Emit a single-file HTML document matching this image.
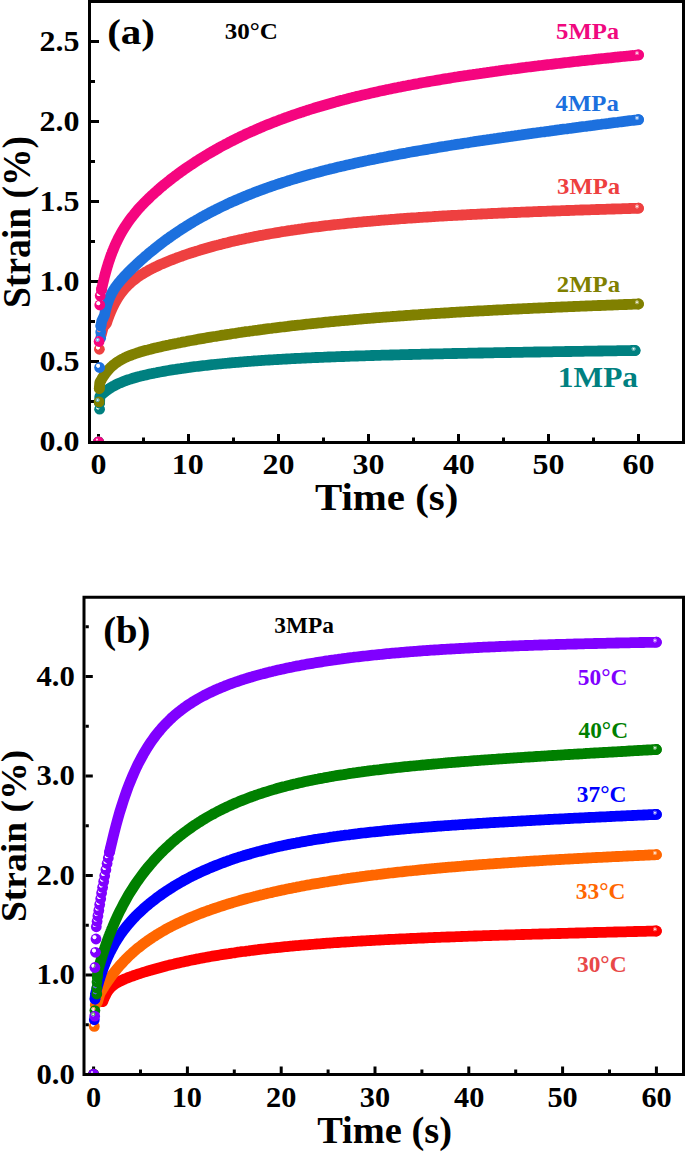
<!DOCTYPE html>
<html><head><meta charset="utf-8"><title>Creep strain vs time</title>
<style>html,body{margin:0;padding:0;background:#fff;}svg{display:block;}</style></head>
<body>
<svg width="685" height="1152" viewBox="0 0 685 1152">
<defs><radialGradient id="g008080" cx="0.36" cy="0.34" fx="0.36" fy="0.34" r="0.5"><stop offset="0" stop-color="#fff"/><stop offset="0.1" stop-color="#fff" stop-opacity="0.85"/><stop offset="0.26" stop-color="#fff" stop-opacity="0.3"/><stop offset="0.44" stop-color="#008080"/><stop offset="1" stop-color="#008080"/></radialGradient><radialGradient id="g808000" cx="0.36" cy="0.34" fx="0.36" fy="0.34" r="0.5"><stop offset="0" stop-color="#fff"/><stop offset="0.1" stop-color="#fff" stop-opacity="0.85"/><stop offset="0.26" stop-color="#fff" stop-opacity="0.3"/><stop offset="0.44" stop-color="#808000"/><stop offset="1" stop-color="#808000"/></radialGradient><radialGradient id="gEE4040" cx="0.36" cy="0.34" fx="0.36" fy="0.34" r="0.5"><stop offset="0" stop-color="#fff"/><stop offset="0.1" stop-color="#fff" stop-opacity="0.85"/><stop offset="0.26" stop-color="#fff" stop-opacity="0.3"/><stop offset="0.44" stop-color="#EE4040"/><stop offset="1" stop-color="#EE4040"/></radialGradient><radialGradient id="g1C70DE" cx="0.36" cy="0.34" fx="0.36" fy="0.34" r="0.5"><stop offset="0" stop-color="#fff"/><stop offset="0.1" stop-color="#fff" stop-opacity="0.85"/><stop offset="0.26" stop-color="#fff" stop-opacity="0.3"/><stop offset="0.44" stop-color="#1C70DE"/><stop offset="1" stop-color="#1C70DE"/></radialGradient><radialGradient id="gF5057F" cx="0.36" cy="0.34" fx="0.36" fy="0.34" r="0.5"><stop offset="0" stop-color="#fff"/><stop offset="0.1" stop-color="#fff" stop-opacity="0.85"/><stop offset="0.26" stop-color="#fff" stop-opacity="0.3"/><stop offset="0.44" stop-color="#F5057F"/><stop offset="1" stop-color="#F5057F"/></radialGradient><radialGradient id="gFF0000" cx="0.36" cy="0.34" fx="0.36" fy="0.34" r="0.5"><stop offset="0" stop-color="#fff"/><stop offset="0.1" stop-color="#fff" stop-opacity="0.85"/><stop offset="0.26" stop-color="#fff" stop-opacity="0.3"/><stop offset="0.44" stop-color="#FF0000"/><stop offset="1" stop-color="#FF0000"/></radialGradient><radialGradient id="gFF6600" cx="0.36" cy="0.34" fx="0.36" fy="0.34" r="0.5"><stop offset="0" stop-color="#fff"/><stop offset="0.1" stop-color="#fff" stop-opacity="0.85"/><stop offset="0.26" stop-color="#fff" stop-opacity="0.3"/><stop offset="0.44" stop-color="#FF6600"/><stop offset="1" stop-color="#FF6600"/></radialGradient><radialGradient id="g0000FF" cx="0.36" cy="0.34" fx="0.36" fy="0.34" r="0.5"><stop offset="0" stop-color="#fff"/><stop offset="0.1" stop-color="#fff" stop-opacity="0.85"/><stop offset="0.26" stop-color="#fff" stop-opacity="0.3"/><stop offset="0.44" stop-color="#0000FF"/><stop offset="1" stop-color="#0000FF"/></radialGradient><radialGradient id="g008000" cx="0.36" cy="0.34" fx="0.36" fy="0.34" r="0.5"><stop offset="0" stop-color="#fff"/><stop offset="0.1" stop-color="#fff" stop-opacity="0.85"/><stop offset="0.26" stop-color="#fff" stop-opacity="0.3"/><stop offset="0.44" stop-color="#008000"/><stop offset="1" stop-color="#008000"/></radialGradient><radialGradient id="g8000FF" cx="0.36" cy="0.34" fx="0.36" fy="0.34" r="0.5"><stop offset="0" stop-color="#fff"/><stop offset="0.1" stop-color="#fff" stop-opacity="0.85"/><stop offset="0.26" stop-color="#fff" stop-opacity="0.3"/><stop offset="0.44" stop-color="#8000FF"/><stop offset="1" stop-color="#8000FF"/></radialGradient></defs>
<rect width="685" height="1152" fill="#fff"/>
<path d="M98.5,441 V434 M188.5,441 V434 M278.5,441 V434 M368.5,441 V434 M458.5,441 V434 M548.5,441 V434 M638.5,441 V434 M143.5,441 V437.5 M233.5,441 V437.5 M323.5,441 V437.5 M413.5,441 V437.5 M503.5,441 V437.5 M593.5,441 V437.5 M91,361.5 H99 M91,281.5 H99 M91,201.5 H99 M91,121.5 H99 M91,41.5 H99 M91,401.5 H95 M91,321.5 H95 M91,241.5 H95 M91,161.5 H95 M91,81.5 H95 M91,1.5 H95" stroke="#000" stroke-width="3" fill="none"/>
<clipPath id="ca"><rect x="91" y="3" width="591" height="438"/></clipPath>
<g clip-path="url(#ca)">
<circle cx="98.5" cy="441.8" r="5.4" fill="#008080"/>
<circle cx="96.9" cy="439.6" r="1.1" fill="#fff" opacity="0.8"/>
<circle cx="99.6" cy="409.2" r="5.4" fill="url(#g008080)"/>
<circle cx="99.6" cy="403.0" r="5.4" fill="url(#g008080)"/>
<polyline points="99.6,403.0 99.8,396.5 99.8,396.5 99.9,396.4 99.9,396.4 99.9,396.4 100.0,396.3 100.0,396.3 100.0,396.3 100.1,396.2 100.1,396.2 100.1,396.2 100.2,396.1 100.2,396.1 100.2,396.1 100.3,396.0 100.3,396.0 100.4,395.9 100.4,395.9 100.4,395.8 100.5,395.8 100.5,395.8 100.6,395.7 100.6,395.7 100.7,395.6 100.7,395.6 100.8,395.5 100.8,395.5 100.9,395.4 100.9,395.4 101.0,395.3 101.0,395.3 101.1,395.2 101.1,395.2 101.2,395.1 101.3,395.0 101.3,395.0 101.4,394.9 101.4,394.9 101.5,394.8 101.6,394.7 101.6,394.7 101.7,394.6 101.8,394.5 101.9,394.5 101.9,394.4 102.0,394.3 102.1,394.3 102.2,394.2 102.3,394.1 102.3,394.0 102.4,393.9 102.5,393.9 102.6,393.8 102.7,393.7 102.8,393.6 102.9,393.5 103.0,393.5 103.1,393.4 103.2,393.3 103.3,393.2 103.4,393.1 103.5,393.0 103.6,392.9 103.7,392.8 103.8,392.7 104.0,392.6 104.1,392.5 104.2,392.4 104.3,392.3 104.5,392.2 104.6,392.1 104.7,392.0 104.9,391.8 105.0,391.7 105.2,391.6 105.3,391.5 105.5,391.4 105.6,391.3 105.8,391.1 105.9,391.0 106.1,390.9 106.3,390.8 106.5,390.6 106.6,390.5 106.8,390.4 107.0,390.2 107.2,390.1 107.4,389.9 107.6,389.8 107.8,389.7 108.0,389.5 108.2,389.4 108.4,389.2 108.6,389.1 108.9,388.9 109.1,388.8 109.3,388.6 109.6,388.4 109.8,388.3 110.1,388.1 110.3,388.0 110.6,387.8 110.9,387.6 111.1,387.5 111.4,387.3 111.7,387.1 112.0,386.9 112.3,386.8 112.6,386.6 112.9,386.4 113.3,386.2 113.6,386.0 113.9,385.9 114.3,385.7 114.6,385.5 115.0,385.3 115.3,385.1 115.7,384.9 116.1,384.7 116.5,384.5 118.2,383.7 120.0,382.9 121.7,382.2 123.4,381.5 125.2,380.8 126.9,380.2 128.6,379.6 130.4,379.1 132.1,378.5 133.8,378.0 135.6,377.5 137.3,377.0 139.0,376.6 140.8,376.1 142.5,375.7 144.3,375.3 146.0,374.9 147.7,374.5 149.5,374.1 151.2,373.7 152.9,373.4 154.7,373.0 156.4,372.7 158.1,372.3 159.9,372.0 161.6,371.7 163.3,371.4 165.1,371.1 166.8,370.8 168.5,370.5 170.3,370.2 172.0,369.9 173.7,369.6 175.5,369.4 177.2,369.1 178.9,368.8 180.7,368.6 182.4,368.3 184.1,368.1 185.9,367.8 187.6,367.6 189.3,367.4 191.1,367.1 192.8,366.9 194.5,366.7 196.3,366.5 198.0,366.3 199.8,366.1 201.5,365.9 203.2,365.7 205.0,365.5 206.7,365.3 208.4,365.1 210.2,364.9 211.9,364.7 213.6,364.5 215.4,364.3 217.1,364.2 218.8,364.0 220.6,363.8 222.3,363.7 224.0,363.5 225.8,363.3 227.5,363.2 229.2,363.0 231.0,362.9 232.7,362.7 234.4,362.6 236.2,362.4 237.9,362.3 239.6,362.1 241.4,362.0 243.1,361.8 244.8,361.7 246.6,361.6 248.3,361.4 250.0,361.3 251.8,361.2 253.5,361.0 255.3,360.9 257.0,360.8 258.7,360.7 260.5,360.6 262.2,360.4 263.9,360.3 265.7,360.2 267.4,360.1 269.1,360.0 270.9,359.9 272.6,359.8 274.3,359.7 276.1,359.6 277.8,359.5 279.5,359.4 281.3,359.3 283.0,359.2 284.7,359.1 286.5,359.0 288.2,358.9 289.9,358.8 291.7,358.7 293.4,358.6 295.1,358.5 296.9,358.4 298.6,358.3 300.3,358.3 302.1,358.2 303.8,358.1 305.5,358.0 307.3,357.9 309.0,357.9 310.8,357.8 312.5,357.7 314.2,357.6 316.0,357.5 317.7,357.5 319.4,357.4 321.2,357.3 322.9,357.3 324.6,357.2 326.4,357.1 328.1,357.0 329.8,357.0 331.6,356.9 333.3,356.8 335.0,356.8 336.8,356.7 338.5,356.6 340.2,356.6 342.0,356.5 343.7,356.5 345.4,356.4 347.2,356.3 348.9,356.3 350.6,356.2 352.4,356.2 354.1,356.1 355.8,356.0 357.6,356.0 359.3,355.9 361.0,355.9 362.8,355.8 364.5,355.8 366.3,355.7 368.0,355.7 369.7,355.6 371.5,355.5 373.2,355.5 374.9,355.4 376.7,355.4 378.4,355.3 380.1,355.3 381.9,355.2 383.6,355.2 385.3,355.1 387.1,355.1 388.8,355.1 390.5,355.0 392.3,355.0 394.0,354.9 395.7,354.9 397.5,354.8 399.2,354.8 400.9,354.7 402.7,354.7 404.4,354.6 406.1,354.6 407.9,354.6 409.6,354.5 411.3,354.5 413.1,354.4 414.8,354.4 416.5,354.3 418.3,354.3 420.0,354.3 421.8,354.2 423.5,354.2 425.2,354.1 427.0,354.1 428.7,354.1 430.4,354.0 432.2,354.0 433.9,353.9 435.6,353.9 437.4,353.9 439.1,353.8 440.8,353.8 442.6,353.8 444.3,353.7 446.0,353.7 447.8,353.6 449.5,353.6 451.2,353.6 453.0,353.5 454.7,353.5 456.4,353.5 458.2,353.4 459.9,353.4 461.6,353.4 463.4,353.3 465.1,353.3 466.8,353.3 468.6,353.2 470.3,353.2 472.0,353.2 473.8,353.1 475.5,353.1 477.3,353.1 479.0,353.0 480.7,353.0 482.5,353.0 484.2,352.9 485.9,352.9 487.7,352.9 489.4,352.8 491.1,352.8 492.9,352.8 494.6,352.7 496.3,352.7 498.1,352.7 499.8,352.6 501.5,352.6 503.3,352.6 505.0,352.6 506.7,352.5 508.5,352.5 510.2,352.5 511.9,352.4 513.7,352.4 515.4,352.4 517.1,352.3 518.9,352.3 520.6,352.3 522.3,352.3 524.1,352.2 525.8,352.2 527.5,352.2 529.3,352.1 531.0,352.1 532.8,352.1 534.5,352.0 536.2,352.0 538.0,352.0 539.7,352.0 541.4,351.9 543.2,351.9 544.9,351.9 546.6,351.8 548.4,351.8 550.1,351.8 551.8,351.8 553.6,351.7 555.3,351.7 557.0,351.7 558.8,351.7 560.5,351.6 562.2,351.6 564.0,351.6 565.7,351.5 567.4,351.5 569.2,351.5 570.9,351.5 572.6,351.4 574.4,351.4 576.1,351.4 577.8,351.3 579.6,351.3 581.3,351.3 583.0,351.3 584.8,351.2 586.5,351.2 588.3,351.2 590.0,351.2 591.7,351.1 593.5,351.1 595.2,351.1 596.9,351.1 598.7,351.0 600.4,351.0 602.1,351.0 603.9,350.9 605.6,350.9 607.3,350.9 609.1,350.9 610.8,350.8 612.5,350.8 614.3,350.8 616.0,350.8 617.7,350.7 619.5,350.7 621.2,350.7 622.9,350.7 624.7,350.6 626.4,350.6 628.1,350.6 629.9,350.6 631.6,350.5 633.3,350.5 635.1,350.5" fill="none" stroke="#008080" stroke-width="10.8" stroke-linecap="round" stroke-linejoin="round"/>
<circle cx="635.1" cy="350.5" r="5.4" fill="url(#g008080)"/>
<circle cx="98.5" cy="441.8" r="5.4" fill="#808000"/>
<circle cx="96.9" cy="439.6" r="1.1" fill="#fff" opacity="0.8"/>
<circle cx="99.1" cy="401.9" r="5.4" fill="url(#g808000)"/>
<circle cx="99.3" cy="388.5" r="5.4" fill="url(#g808000)"/>
<polyline points="99.3,388.5 99.8,382.5 99.8,382.5 99.9,382.4 99.9,382.4 99.9,382.3 100.0,382.2 100.0,382.2 100.0,382.1 100.1,382.0 100.1,382.0 100.1,381.9 100.2,381.8 100.2,381.8 100.2,381.7 100.3,381.6 100.3,381.6 100.4,381.5 100.4,381.4 100.4,381.3 100.5,381.2 100.5,381.2 100.6,381.1 100.6,381.0 100.7,380.9 100.7,380.8 100.8,380.7 100.8,380.6 100.9,380.6 100.9,380.5 101.0,380.4 101.0,380.3 101.1,380.2 101.1,380.1 101.2,380.0 101.3,379.8 101.3,379.7 101.4,379.6 101.4,379.5 101.5,379.4 101.6,379.3 101.6,379.2 101.7,379.1 101.8,378.9 101.9,378.8 101.9,378.7 102.0,378.6 102.1,378.4 102.2,378.3 102.3,378.2 102.3,378.0 102.4,377.9 102.5,377.7 102.6,377.6 102.7,377.4 102.8,377.3 102.9,377.1 103.0,377.0 103.1,376.8 103.2,376.7 103.3,376.5 103.4,376.4 103.5,376.2 103.6,376.0 103.7,375.8 103.8,375.7 104.0,375.5 104.1,375.3 104.2,375.1 104.3,375.0 104.5,374.8 104.6,374.6 104.7,374.4 104.9,374.2 105.0,374.0 105.2,373.8 105.3,373.6 105.5,373.4 105.6,373.2 105.8,373.0 105.9,372.8 106.1,372.6 106.3,372.3 106.5,372.1 106.6,371.9 106.8,371.7 107.0,371.5 107.2,371.2 107.4,371.0 107.6,370.8 107.8,370.5 108.0,370.3 108.2,370.1 108.4,369.8 108.6,369.6 108.9,369.3 109.1,369.1 109.3,368.8 109.6,368.6 109.8,368.3 110.1,368.1 110.3,367.8 110.6,367.5 110.9,367.3 111.1,367.0 111.4,366.8 111.7,366.5 112.0,366.2 112.3,366.0 112.6,365.7 112.9,365.4 113.3,365.1 113.6,364.9 113.9,364.6 114.3,364.3 114.6,364.0 115.0,363.8 115.3,363.5 115.7,363.2 116.1,362.9 116.5,362.7 118.2,361.5 120.0,360.4 121.7,359.4 123.5,358.5 125.2,357.6 127.0,356.8 128.7,356.1 130.5,355.4 132.2,354.7 134.0,354.1 135.7,353.5 137.4,352.9 139.2,352.3 140.9,351.8 142.7,351.3 144.4,350.8 146.2,350.3 147.9,349.9 149.7,349.4 151.4,349.0 153.2,348.5 154.9,348.1 156.7,347.7 158.4,347.3 160.1,346.9 161.9,346.5 163.6,346.1 165.4,345.7 167.1,345.3 168.9,345.0 170.6,344.6 172.4,344.2 174.1,343.9 175.9,343.5 177.6,343.2 179.3,342.8 181.1,342.5 182.8,342.1 184.6,341.8 186.3,341.5 188.1,341.1 189.8,340.8 191.6,340.5 193.3,340.2 195.1,339.9 196.8,339.5 198.6,339.2 200.3,338.9 202.0,338.6 203.8,338.3 205.5,338.0 207.3,337.7 209.0,337.4 210.8,337.1 212.5,336.8 214.3,336.5 216.0,336.3 217.8,336.0 219.5,335.7 221.2,335.4 223.0,335.1 224.7,334.9 226.5,334.6 228.2,334.3 230.0,334.1 231.7,333.8 233.5,333.5 235.2,333.3 237.0,333.0 238.7,332.7 240.5,332.5 242.2,332.2 243.9,332.0 245.7,331.7 247.4,331.5 249.2,331.3 250.9,331.0 252.7,330.8 254.4,330.5 256.2,330.3 257.9,330.1 259.7,329.8 261.4,329.6 263.1,329.4 264.9,329.1 266.6,328.9 268.4,328.7 270.1,328.5 271.9,328.3 273.6,328.0 275.4,327.8 277.1,327.6 278.9,327.4 280.6,327.2 282.4,327.0 284.1,326.8 285.8,326.6 287.6,326.4 289.3,326.1 291.1,325.9 292.8,325.7 294.6,325.5 296.3,325.4 298.1,325.2 299.8,325.0 301.6,324.8 303.3,324.6 305.0,324.4 306.8,324.2 308.5,324.0 310.3,323.8 312.0,323.6 313.8,323.5 315.5,323.3 317.3,323.1 319.0,322.9 320.8,322.8 322.5,322.6 324.3,322.4 326.0,322.2 327.7,322.1 329.5,321.9 331.2,321.7 333.0,321.6 334.7,321.4 336.5,321.2 338.2,321.1 340.0,320.9 341.7,320.7 343.5,320.6 345.2,320.4 346.9,320.3 348.7,320.1 350.4,319.9 352.2,319.8 353.9,319.6 355.7,319.5 357.4,319.3 359.2,319.2 360.9,319.0 362.7,318.9 364.4,318.7 366.2,318.6 367.9,318.4 369.6,318.3 371.4,318.2 373.1,318.0 374.9,317.9 376.6,317.7 378.4,317.6 380.1,317.5 381.9,317.3 383.6,317.2 385.4,317.1 387.1,316.9 388.8,316.8 390.6,316.7 392.3,316.5 394.1,316.4 395.8,316.3 397.6,316.1 399.3,316.0 401.1,315.9 402.8,315.8 404.6,315.6 406.3,315.5 408.1,315.4 409.8,315.3 411.5,315.1 413.3,315.0 415.0,314.9 416.8,314.8 418.5,314.7 420.3,314.5 422.0,314.4 423.8,314.3 425.5,314.2 427.3,314.1 429.0,314.0 430.7,313.8 432.5,313.7 434.2,313.6 436.0,313.5 437.7,313.4 439.5,313.3 441.2,313.2 443.0,313.1 444.7,313.0 446.5,312.9 448.2,312.8 450.0,312.6 451.7,312.5 453.4,312.4 455.2,312.3 456.9,312.2 458.7,312.1 460.4,312.0 462.2,311.9 463.9,311.8 465.7,311.7 467.4,311.6 469.2,311.5 470.9,311.4 472.6,311.3 474.4,311.2 476.1,311.1 477.9,311.0 479.6,310.9 481.4,310.8 483.1,310.8 484.9,310.7 486.6,310.6 488.4,310.5 490.1,310.4 491.9,310.3 493.6,310.2 495.3,310.1 497.1,310.0 498.8,309.9 500.6,309.8 502.3,309.8 504.1,309.7 505.8,309.6 507.6,309.5 509.3,309.4 511.1,309.3 512.8,309.2 514.5,309.1 516.3,309.1 518.0,309.0 519.8,308.9 521.5,308.8 523.3,308.7 525.0,308.6 526.8,308.6 528.5,308.5 530.3,308.4 532.0,308.3 533.8,308.2 535.5,308.2 537.2,308.1 539.0,308.0 540.7,307.9 542.5,307.8 544.2,307.8 546.0,307.7 547.7,307.6 549.5,307.5 551.2,307.5 553.0,307.4 554.7,307.3 556.4,307.2 558.2,307.2 559.9,307.1 561.7,307.0 563.4,306.9 565.2,306.9 566.9,306.8 568.7,306.7 570.4,306.6 572.2,306.6 573.9,306.5 575.7,306.4 577.4,306.3 579.1,306.3 580.9,306.2 582.6,306.1 584.4,306.1 586.1,306.0 587.9,305.9 589.6,305.9 591.4,305.8 593.1,305.7 594.9,305.7 596.6,305.6 598.3,305.5 600.1,305.5 601.8,305.4 603.6,305.3 605.3,305.3 607.1,305.2 608.8,305.1 610.6,305.1 612.3,305.0 614.1,304.9 615.8,304.9 617.6,304.8 619.3,304.7 621.0,304.7 622.8,304.6 624.5,304.5 626.3,304.5 628.0,304.4 629.8,304.3 631.5,304.3 633.3,304.2 635.0,304.2 636.8,304.1 638.5,304.0" fill="none" stroke="#808000" stroke-width="10.8" stroke-linecap="round" stroke-linejoin="round"/>
<circle cx="638.5" cy="304.0" r="5.4" fill="url(#g808000)"/>
<circle cx="98.5" cy="441.8" r="5.4" fill="#EE4040"/>
<circle cx="96.9" cy="439.6" r="1.1" fill="#fff" opacity="0.8"/>
<circle cx="99.4" cy="349.3" r="5.4" fill="url(#gEE4040)"/>
<polyline points="101.2,335.0 103.3,327.0 106.5,323.2 106.6,323.0 106.6,322.9 106.7,322.7 106.7,322.5 106.8,322.3 106.8,322.2 106.9,322.0 106.9,321.8 107.0,321.7 107.1,321.5 107.1,321.3 107.2,321.1 107.2,321.0 107.3,320.8 107.4,320.6 107.4,320.4 107.5,320.2 107.5,320.1 107.6,319.9 107.7,319.7 107.7,319.5 107.8,319.4 107.9,319.2 107.9,319.0 108.0,318.8 108.1,318.6 108.1,318.4 108.2,318.3 108.2,318.1 108.3,317.9 108.4,317.7 108.4,317.5 108.5,317.3 108.6,317.2 108.7,317.0 108.7,316.8 108.8,316.6 108.9,316.4 108.9,316.2 109.0,316.0 109.1,315.8 109.2,315.6 109.2,315.5 109.3,315.3 109.4,315.1 109.4,314.9 109.5,314.7 109.6,314.5 109.7,314.3 109.7,314.1 109.8,313.9 109.9,313.7 110.0,313.5 110.1,313.3 110.1,313.1 110.2,312.9 110.3,312.8 110.4,312.6 110.5,312.4 110.5,312.2 110.6,312.0 110.7,311.8 110.8,311.6 110.9,311.4 111.0,311.2 111.0,311.0 111.1,310.8 111.2,310.6 111.3,310.4 111.4,310.2 111.5,310.0 111.6,309.8 111.7,309.6 111.7,309.4 111.8,309.2 111.9,309.0 112.0,308.8 112.1,308.6 112.2,308.4 112.3,308.2 112.4,307.9 112.5,307.7 112.6,307.5 112.7,307.3 112.8,307.1 112.9,306.9 113.0,306.7 113.1,306.5 113.2,306.3 113.3,306.1 113.4,305.9 113.5,305.7 113.6,305.5 113.7,305.3 113.8,305.1 113.9,304.9 114.0,304.7 114.1,304.5 114.2,304.2 114.3,304.0 114.4,303.8 114.5,303.6 114.6,303.4 114.8,303.2 114.9,303.0 115.0,302.8 115.1,302.6 115.2,302.4 115.3,302.2 115.4,302.0 115.5,301.8 115.7,301.5 115.8,301.3 115.9,301.1 116.0,300.9 116.1,300.7 116.3,300.5 116.4,300.3 116.5,300.1 118.2,297.2 120.0,294.6 121.7,292.3 123.5,290.1 125.2,288.1 127.0,286.2 128.7,284.5 130.5,282.9 132.2,281.3 134.0,279.9 135.7,278.6 137.4,277.3 139.2,276.1 140.9,274.9 142.7,273.8 144.4,272.8 146.2,271.8 147.9,270.8 149.7,269.8 151.4,268.9 153.2,268.0 154.9,267.2 156.7,266.3 158.4,265.5 160.1,264.7 161.9,263.9 163.6,263.2 165.4,262.4 167.1,261.7 168.9,261.0 170.6,260.3 172.4,259.6 174.1,258.9 175.9,258.3 177.6,257.6 179.3,257.0 181.1,256.4 182.8,255.7 184.6,255.1 186.3,254.5 188.1,253.9 189.8,253.3 191.6,252.8 193.3,252.2 195.1,251.7 196.8,251.1 198.6,250.6 200.3,250.0 202.0,249.5 203.8,249.0 205.5,248.5 207.3,248.0 209.0,247.5 210.8,247.0 212.5,246.5 214.3,246.0 216.0,245.6 217.8,245.1 219.5,244.7 221.2,244.2 223.0,243.8 224.7,243.3 226.5,242.9 228.2,242.5 230.0,242.0 231.7,241.6 233.5,241.2 235.2,240.8 237.0,240.4 238.7,240.0 240.5,239.6 242.2,239.3 243.9,238.9 245.7,238.5 247.4,238.1 249.2,237.8 250.9,237.4 252.7,237.1 254.4,236.7 256.2,236.4 257.9,236.0 259.7,235.7 261.4,235.4 263.1,235.1 264.9,234.7 266.6,234.4 268.4,234.1 270.1,233.8 271.9,233.5 273.6,233.2 275.4,232.9 277.1,232.6 278.9,232.3 280.6,232.0 282.4,231.7 284.1,231.5 285.8,231.2 287.6,230.9 289.3,230.6 291.1,230.4 292.8,230.1 294.6,229.9 296.3,229.6 298.1,229.4 299.8,229.1 301.6,228.9 303.3,228.6 305.0,228.4 306.8,228.1 308.5,227.9 310.3,227.7 312.0,227.4 313.8,227.2 315.5,227.0 317.3,226.8 319.0,226.6 320.8,226.3 322.5,226.1 324.3,225.9 326.0,225.7 327.7,225.5 329.5,225.3 331.2,225.1 333.0,224.9 334.7,224.7 336.5,224.5 338.2,224.3 340.0,224.2 341.7,224.0 343.5,223.8 345.2,223.6 346.9,223.4 348.7,223.2 350.4,223.1 352.2,222.9 353.9,222.7 355.7,222.6 357.4,222.4 359.2,222.2 360.9,222.1 362.7,221.9 364.4,221.7 366.2,221.6 367.9,221.4 369.6,221.3 371.4,221.1 373.1,221.0 374.9,220.8 376.6,220.7 378.4,220.5 380.1,220.4 381.9,220.2 383.6,220.1 385.4,219.9 387.1,219.8 388.8,219.7 390.6,219.5 392.3,219.4 394.1,219.3 395.8,219.1 397.6,219.0 399.3,218.9 401.1,218.7 402.8,218.6 404.6,218.5 406.3,218.4 408.1,218.2 409.8,218.1 411.5,218.0 413.3,217.9 415.0,217.8 416.8,217.7 418.5,217.5 420.3,217.4 422.0,217.3 423.8,217.2 425.5,217.1 427.3,217.0 429.0,216.9 430.7,216.8 432.5,216.7 434.2,216.5 436.0,216.4 437.7,216.3 439.5,216.2 441.2,216.1 443.0,216.0 444.7,215.9 446.5,215.8 448.2,215.7 450.0,215.6 451.7,215.5 453.4,215.4 455.2,215.3 456.9,215.3 458.7,215.2 460.4,215.1 462.2,215.0 463.9,214.9 465.7,214.8 467.4,214.7 469.2,214.6 470.9,214.5 472.6,214.4 474.4,214.3 476.1,214.3 477.9,214.2 479.6,214.1 481.4,214.0 483.1,213.9 484.9,213.8 486.6,213.8 488.4,213.7 490.1,213.6 491.9,213.5 493.6,213.4 495.3,213.4 497.1,213.3 498.8,213.2 500.6,213.1 502.3,213.0 504.1,213.0 505.8,212.9 507.6,212.8 509.3,212.7 511.1,212.7 512.8,212.6 514.5,212.5 516.3,212.5 518.0,212.4 519.8,212.3 521.5,212.2 523.3,212.2 525.0,212.1 526.8,212.0 528.5,212.0 530.3,211.9 532.0,211.8 533.8,211.7 535.5,211.7 537.2,211.6 539.0,211.5 540.7,211.5 542.5,211.4 544.2,211.3 546.0,211.3 547.7,211.2 549.5,211.2 551.2,211.1 553.0,211.0 554.7,211.0 556.4,210.9 558.2,210.8 559.9,210.8 561.7,210.7 563.4,210.6 565.2,210.6 566.9,210.5 568.7,210.5 570.4,210.4 572.2,210.3 573.9,210.3 575.7,210.2 577.4,210.2 579.1,210.1 580.9,210.0 582.6,210.0 584.4,209.9 586.1,209.9 587.9,209.8 589.6,209.8 591.4,209.7 593.1,209.6 594.9,209.6 596.6,209.5 598.3,209.5 600.1,209.4 601.8,209.4 603.6,209.3 605.3,209.3 607.1,209.2 608.8,209.1 610.6,209.1 612.3,209.0 614.1,209.0 615.8,208.9 617.6,208.9 619.3,208.8 621.0,208.8 622.8,208.7 624.5,208.7 626.3,208.6 628.0,208.6 629.8,208.5 631.5,208.4 633.3,208.4 635.0,208.3 636.8,208.3 638.5,208.2" fill="none" stroke="#EE4040" stroke-width="10.8" stroke-linecap="round" stroke-linejoin="round"/>
<circle cx="638.5" cy="208.2" r="5.4" fill="url(#gEE4040)"/>
<circle cx="98.5" cy="441.8" r="5.4" fill="#1C70DE"/>
<circle cx="96.9" cy="439.6" r="1.1" fill="#fff" opacity="0.8"/>
<circle cx="99.6" cy="367.5" r="5.4" fill="url(#g1C70DE)"/>
<circle cx="100.7" cy="338.0" r="5.4" fill="url(#g1C70DE)"/>
<circle cx="100.7" cy="332.0" r="5.4" fill="url(#g1C70DE)"/>
<circle cx="100.9" cy="326.0" r="5.4" fill="url(#g1C70DE)"/>
<polyline points="100.9,326.0 101.8,321.0 104.5,315.2 104.6,315.0 104.6,314.7 104.7,314.4 104.7,314.2 104.8,313.9 104.8,313.6 104.9,313.3 105.0,313.1 105.0,312.8 105.1,312.5 105.1,312.3 105.2,312.0 105.3,311.7 105.3,311.5 105.4,311.2 105.5,310.9 105.5,310.6 105.6,310.4 105.7,310.1 105.7,309.8 105.8,309.6 105.9,309.3 105.9,309.0 106.0,308.8 106.1,308.5 106.1,308.2 106.2,308.0 106.3,307.7 106.3,307.4 106.4,307.2 106.5,306.9 106.6,306.7 106.6,306.4 106.7,306.1 106.8,305.9 106.9,305.6 106.9,305.3 107.0,305.1 107.1,304.8 107.2,304.6 107.3,304.3 107.3,304.0 107.4,303.8 107.5,303.5 107.6,303.3 107.7,303.0 107.8,302.8 107.8,302.5 107.9,302.2 108.0,302.0 108.1,301.7 108.2,301.5 108.3,301.2 108.4,301.0 108.5,300.7 108.6,300.5 108.7,300.2 108.7,300.0 108.8,299.7 108.9,299.5 109.0,299.2 109.1,299.0 109.2,298.7 109.3,298.5 109.4,298.3 109.5,298.0 109.6,297.8 109.7,297.5 109.8,297.3 110.0,297.0 110.1,296.8 110.2,296.6 110.3,296.3 110.4,296.1 110.5,295.8 110.6,295.6 110.7,295.4 110.8,295.1 110.9,294.9 111.1,294.7 111.2,294.4 111.3,294.2 111.4,294.0 111.5,293.7 111.7,293.5 111.8,293.3 111.9,293.0 112.0,292.8 112.1,292.6 112.3,292.3 112.4,292.1 112.5,291.9 112.7,291.6 112.8,291.4 112.9,291.2 113.1,291.0 113.2,290.7 113.3,290.5 113.5,290.3 113.6,290.0 113.7,289.8 113.9,289.6 114.0,289.4 114.2,289.1 114.3,288.9 114.5,288.7 114.6,288.5 114.8,288.2 114.9,288.0 115.1,287.8 115.2,287.6 115.4,287.3 115.5,287.1 115.7,286.9 115.8,286.7 116.0,286.4 116.2,286.2 116.3,286.0 116.5,285.7 118.2,283.5 120.0,281.3 121.7,279.3 123.5,277.3 125.2,275.5 127.0,273.6 128.7,271.9 130.5,270.1 132.2,268.4 134.0,266.7 135.7,265.1 137.4,263.5 139.2,261.9 140.9,260.3 142.7,258.7 144.4,257.2 146.2,255.7 147.9,254.2 149.7,252.7 151.4,251.3 153.2,249.9 154.9,248.5 156.7,247.1 158.4,245.7 160.1,244.4 161.9,243.0 163.6,241.7 165.4,240.4 167.1,239.1 168.9,237.9 170.6,236.6 172.4,235.4 174.1,234.2 175.9,233.0 177.6,231.8 179.3,230.7 181.1,229.5 182.8,228.4 184.6,227.3 186.3,226.2 188.1,225.1 189.8,224.0 191.6,223.0 193.3,221.9 195.1,220.9 196.8,219.9 198.6,218.9 200.3,217.9 202.0,216.9 203.8,216.0 205.5,215.0 207.3,214.1 209.0,213.1 210.8,212.2 212.5,211.3 214.3,210.4 216.0,209.5 217.8,208.7 219.5,207.8 221.2,206.9 223.0,206.1 224.7,205.3 226.5,204.5 228.2,203.6 230.0,202.8 231.7,202.0 233.5,201.3 235.2,200.5 237.0,199.7 238.7,199.0 240.5,198.2 242.2,197.5 243.9,196.8 245.7,196.1 247.4,195.3 249.2,194.6 250.9,193.9 252.7,193.3 254.4,192.6 256.2,191.9 257.9,191.2 259.7,190.6 261.4,189.9 263.1,189.3 264.9,188.7 266.6,188.0 268.4,187.4 270.1,186.8 271.9,186.2 273.6,185.6 275.4,185.0 277.1,184.4 278.9,183.8 280.6,183.3 282.4,182.7 284.1,182.1 285.8,181.6 287.6,181.0 289.3,180.5 291.1,179.9 292.8,179.4 294.6,178.9 296.3,178.3 298.1,177.8 299.8,177.3 301.6,176.8 303.3,176.3 305.0,175.8 306.8,175.3 308.5,174.8 310.3,174.3 312.0,173.8 313.8,173.4 315.5,172.9 317.3,172.4 319.0,172.0 320.8,171.5 322.5,171.0 324.3,170.6 326.0,170.1 327.7,169.7 329.5,169.3 331.2,168.8 333.0,168.4 334.7,168.0 336.5,167.5 338.2,167.1 340.0,166.7 341.7,166.3 343.5,165.9 345.2,165.5 346.9,165.1 348.7,164.7 350.4,164.3 352.2,163.9 353.9,163.5 355.7,163.1 357.4,162.7 359.2,162.3 360.9,161.9 362.7,161.6 364.4,161.2 366.2,160.8 367.9,160.5 369.6,160.1 371.4,159.7 373.1,159.4 374.9,159.0 376.6,158.7 378.4,158.3 380.1,157.9 381.9,157.6 383.6,157.3 385.4,156.9 387.1,156.6 388.8,156.2 390.6,155.9 392.3,155.6 394.1,155.2 395.8,154.9 397.6,154.6 399.3,154.2 401.1,153.9 402.8,153.6 404.6,153.3 406.3,153.0 408.1,152.6 409.8,152.3 411.5,152.0 413.3,151.7 415.0,151.4 416.8,151.1 418.5,150.8 420.3,150.5 422.0,150.2 423.8,149.9 425.5,149.6 427.3,149.3 429.0,149.0 430.7,148.7 432.5,148.4 434.2,148.1 436.0,147.8 437.7,147.5 439.5,147.2 441.2,146.9 443.0,146.6 444.7,146.4 446.5,146.1 448.2,145.8 450.0,145.5 451.7,145.2 453.4,145.0 455.2,144.7 456.9,144.4 458.7,144.1 460.4,143.9 462.2,143.6 463.9,143.3 465.7,143.0 467.4,142.8 469.2,142.5 470.9,142.2 472.6,142.0 474.4,141.7 476.1,141.4 477.9,141.2 479.6,140.9 481.4,140.7 483.1,140.4 484.9,140.1 486.6,139.9 488.4,139.6 490.1,139.4 491.9,139.1 493.6,138.9 495.3,138.6 497.1,138.4 498.8,138.1 500.6,137.8 502.3,137.6 504.1,137.3 505.8,137.1 507.6,136.8 509.3,136.6 511.1,136.4 512.8,136.1 514.5,135.9 516.3,135.6 518.0,135.4 519.8,135.1 521.5,134.9 523.3,134.6 525.0,134.4 526.8,134.2 528.5,133.9 530.3,133.7 532.0,133.4 533.8,133.2 535.5,133.0 537.2,132.7 539.0,132.5 540.7,132.2 542.5,132.0 544.2,131.8 546.0,131.5 547.7,131.3 549.5,131.1 551.2,130.8 553.0,130.6 554.7,130.4 556.4,130.1 558.2,129.9 559.9,129.7 561.7,129.4 563.4,129.2 565.2,129.0 566.9,128.8 568.7,128.5 570.4,128.3 572.2,128.1 573.9,127.8 575.7,127.6 577.4,127.4 579.1,127.2 580.9,126.9 582.6,126.7 584.4,126.5 586.1,126.3 587.9,126.0 589.6,125.8 591.4,125.6 593.1,125.4 594.9,125.1 596.6,124.9 598.3,124.7 600.1,124.5 601.8,124.2 603.6,124.0 605.3,123.8 607.1,123.6 608.8,123.4 610.6,123.1 612.3,122.9 614.1,122.7 615.8,122.5 617.6,122.3 619.3,122.0 621.0,121.8 622.8,121.6 624.5,121.4 626.3,121.2 628.0,120.9 629.8,120.7 631.5,120.5 633.3,120.3 635.0,120.1 636.8,119.9 638.5,119.6" fill="none" stroke="#1C70DE" stroke-width="10.8" stroke-linecap="round" stroke-linejoin="round"/>
<circle cx="638.5" cy="119.6" r="5.4" fill="url(#g1C70DE)"/>
<circle cx="98.5" cy="441.8" r="5.4" fill="#F5057F"/>
<circle cx="96.9" cy="439.6" r="1.1" fill="#fff" opacity="0.8"/>
<circle cx="99.1" cy="341.5" r="5.4" fill="url(#gF5057F)"/>
<circle cx="99.8" cy="305.0" r="5.4" fill="url(#gF5057F)"/>
<circle cx="100.2" cy="295.8" r="5.4" fill="url(#gF5057F)"/>
<circle cx="101.5" cy="289.6" r="5.4" fill="url(#gF5057F)"/>
<polyline points="101.5,289.6 101.5,289.4 101.6,289.1 101.6,288.8 101.7,288.5 101.8,288.2 101.8,287.9 101.9,287.6 102.0,287.3 102.0,287.0 102.1,286.7 102.2,286.4 102.3,286.0 102.3,285.7 102.4,285.4 102.5,285.0 102.6,284.7 102.6,284.3 102.7,283.9 102.8,283.6 102.9,283.2 103.0,282.8 103.1,282.5 103.2,282.1 103.3,281.7 103.4,281.3 103.5,280.9 103.6,280.5 103.7,280.0 103.8,279.6 103.9,279.2 104.0,278.8 104.1,278.3 104.2,277.9 104.3,277.4 104.4,277.0 104.5,276.5 104.7,276.0 104.8,275.6 104.9,275.1 105.0,274.6 105.2,274.1 105.3,273.6 105.4,273.1 105.6,272.6 105.7,272.1 105.9,271.6 106.0,271.0 106.2,270.5 106.3,270.0 106.5,269.4 106.6,268.9 106.8,268.3 107.0,267.7 107.1,267.2 107.3,266.6 107.5,266.0 107.7,265.4 107.9,264.8 108.0,264.2 108.2,263.6 108.4,263.0 108.6,262.4 108.8,261.7 109.0,261.1 109.2,260.5 109.5,259.8 109.7,259.2 109.9,258.5 110.1,257.9 110.4,257.2 110.6,256.5 110.8,255.9 111.1,255.2 111.3,254.5 111.6,253.8 111.9,253.1 112.1,252.4 112.4,251.7 112.7,251.0 113.0,250.3 113.3,249.6 113.6,248.9 113.9,248.1 114.2,247.4 114.5,246.7 114.8,245.9 115.1,245.2 115.5,244.4 115.8,243.7 116.1,242.9 116.5,242.2 118.2,238.6 120.0,235.2 121.7,232.1 123.5,229.2 125.2,226.4 127.0,223.7 128.7,221.2 130.5,218.8 132.2,216.6 134.0,214.4 135.7,212.2 137.4,210.2 139.2,208.2 140.9,206.3 142.7,204.5 144.4,202.6 146.2,200.9 147.9,199.2 149.7,197.5 151.4,195.8 153.2,194.2 154.9,192.6 156.7,191.1 158.4,189.6 160.1,188.0 161.9,186.6 163.6,185.1 165.4,183.7 167.1,182.3 168.9,180.9 170.6,179.5 172.4,178.2 174.1,176.8 175.9,175.5 177.6,174.2 179.3,173.0 181.1,171.7 182.8,170.5 184.6,169.2 186.3,168.0 188.1,166.8 189.8,165.6 191.6,164.5 193.3,163.3 195.1,162.2 196.8,161.0 198.6,159.9 200.3,158.8 202.0,157.7 203.8,156.7 205.5,155.6 207.3,154.5 209.0,153.5 210.8,152.5 212.5,151.5 214.3,150.5 216.0,149.5 217.8,148.5 219.5,147.5 221.2,146.6 223.0,145.6 224.7,144.7 226.5,143.8 228.2,142.8 230.0,141.9 231.7,141.0 233.5,140.2 235.2,139.3 237.0,138.4 238.7,137.6 240.5,136.7 242.2,135.9 243.9,135.1 245.7,134.2 247.4,133.4 249.2,132.6 250.9,131.8 252.7,131.1 254.4,130.3 256.2,129.5 257.9,128.8 259.7,128.0 261.4,127.3 263.1,126.5 264.9,125.8 266.6,125.1 268.4,124.4 270.1,123.7 271.9,123.0 273.6,122.3 275.4,121.6 277.1,121.0 278.9,120.3 280.6,119.6 282.4,119.0 284.1,118.3 285.8,117.7 287.6,117.1 289.3,116.4 291.1,115.8 292.8,115.2 294.6,114.6 296.3,114.0 298.1,113.4 299.8,112.8 301.6,112.2 303.3,111.7 305.0,111.1 306.8,110.5 308.5,110.0 310.3,109.4 312.0,108.9 313.8,108.3 315.5,107.8 317.3,107.3 319.0,106.7 320.8,106.2 322.5,105.7 324.3,105.2 326.0,104.7 327.7,104.2 329.5,103.7 331.2,103.2 333.0,102.7 334.7,102.2 336.5,101.8 338.2,101.3 340.0,100.8 341.7,100.3 343.5,99.9 345.2,99.4 346.9,99.0 348.7,98.5 350.4,98.1 352.2,97.6 353.9,97.2 355.7,96.8 357.4,96.3 359.2,95.9 360.9,95.5 362.7,95.1 364.4,94.7 366.2,94.3 367.9,93.9 369.6,93.5 371.4,93.1 373.1,92.7 374.9,92.3 376.6,91.9 378.4,91.5 380.1,91.1 381.9,90.7 383.6,90.4 385.4,90.0 387.1,89.6 388.8,89.3 390.6,88.9 392.3,88.5 394.1,88.2 395.8,87.8 397.6,87.5 399.3,87.1 401.1,86.8 402.8,86.4 404.6,86.1 406.3,85.8 408.1,85.4 409.8,85.1 411.5,84.8 413.3,84.4 415.0,84.1 416.8,83.8 418.5,83.5 420.3,83.1 422.0,82.8 423.8,82.5 425.5,82.2 427.3,81.9 429.0,81.6 430.7,81.3 432.5,81.0 434.2,80.7 436.0,80.4 437.7,80.1 439.5,79.8 441.2,79.5 443.0,79.2 444.7,78.9 446.5,78.6 448.2,78.4 450.0,78.1 451.7,77.8 453.4,77.5 455.2,77.2 456.9,77.0 458.7,76.7 460.4,76.4 462.2,76.2 463.9,75.9 465.7,75.6 467.4,75.4 469.2,75.1 470.9,74.8 472.6,74.6 474.4,74.3 476.1,74.1 477.9,73.8 479.6,73.6 481.4,73.3 483.1,73.1 484.9,72.8 486.6,72.6 488.4,72.3 490.1,72.1 491.9,71.8 493.6,71.6 495.3,71.4 497.1,71.1 498.8,70.9 500.6,70.6 502.3,70.4 504.1,70.2 505.8,69.9 507.6,69.7 509.3,69.5 511.1,69.3 512.8,69.0 514.5,68.8 516.3,68.6 518.0,68.4 519.8,68.1 521.5,67.9 523.3,67.7 525.0,67.5 526.8,67.2 528.5,67.0 530.3,66.8 532.0,66.6 533.8,66.4 535.5,66.2 537.2,66.0 539.0,65.7 540.7,65.5 542.5,65.3 544.2,65.1 546.0,64.9 547.7,64.7 549.5,64.5 551.2,64.3 553.0,64.1 554.7,63.9 556.4,63.7 558.2,63.5 559.9,63.3 561.7,63.1 563.4,62.9 565.2,62.7 566.9,62.5 568.7,62.3 570.4,62.1 572.2,61.9 573.9,61.7 575.7,61.5 577.4,61.3 579.1,61.1 580.9,60.9 582.6,60.7 584.4,60.5 586.1,60.4 587.9,60.2 589.6,60.0 591.4,59.8 593.1,59.6 594.9,59.4 596.6,59.2 598.3,59.0 600.1,58.9 601.8,58.7 603.6,58.5 605.3,58.3 607.1,58.1 608.8,58.0 610.6,57.8 612.3,57.6 614.1,57.4 615.8,57.2 617.6,57.0 619.3,56.9 621.0,56.7 622.8,56.5 624.5,56.3 626.3,56.2 628.0,56.0 629.8,55.8 631.5,55.6 633.3,55.5 635.0,55.3 636.8,55.1 638.5,54.9" fill="none" stroke="#F5057F" stroke-width="10.8" stroke-linecap="round" stroke-linejoin="round"/>
<circle cx="638.5" cy="54.9" r="5.4" fill="url(#gF5057F)"/>
</g>
<path d="M89.5,444 V1.5 H683.5 V444 M88,442.5 H685" fill="none" stroke="#000" stroke-width="3"/>
<text transform="translate(39.48,450.99) scale(0.3200,0.2950)" font-family="'Liberation Serif', serif" font-weight="bold" font-size="100" fill="#000">0.0</text>
<text transform="translate(39.48,370.99) scale(0.3200,0.2950)" font-family="'Liberation Serif', serif" font-weight="bold" font-size="100" fill="#000">0.5</text>
<text transform="translate(39.48,291.14) scale(0.3200,0.2950)" font-family="'Liberation Serif', serif" font-weight="bold" font-size="100" fill="#000">1.0</text>
<text transform="translate(39.48,211.29) scale(0.3200,0.2950)" font-family="'Liberation Serif', serif" font-weight="bold" font-size="100" fill="#000">1.5</text>
<text transform="translate(39.48,130.99) scale(0.3200,0.2950)" font-family="'Liberation Serif', serif" font-weight="bold" font-size="100" fill="#000">2.0</text>
<text transform="translate(39.48,51.14) scale(0.3200,0.2950)" font-family="'Liberation Serif', serif" font-weight="bold" font-size="100" fill="#000">2.5</text>
<text transform="translate(90.40,474.09) scale(0.3200,0.2950)" font-family="'Liberation Serif', serif" font-weight="bold" font-size="100" fill="#000">0</text>
<text transform="translate(171.76,474.24) scale(0.3200,0.2950)" font-family="'Liberation Serif', serif" font-weight="bold" font-size="100" fill="#000">10</text>
<text transform="translate(262.40,474.09) scale(0.3200,0.2950)" font-family="'Liberation Serif', serif" font-weight="bold" font-size="100" fill="#000">20</text>
<text transform="translate(352.40,474.09) scale(0.3200,0.2950)" font-family="'Liberation Serif', serif" font-weight="bold" font-size="100" fill="#000">30</text>
<text transform="translate(442.88,474.09) scale(0.3200,0.2950)" font-family="'Liberation Serif', serif" font-weight="bold" font-size="100" fill="#000">40</text>
<text transform="translate(532.40,474.09) scale(0.3200,0.2950)" font-family="'Liberation Serif', serif" font-weight="bold" font-size="100" fill="#000">50</text>
<text transform="translate(622.56,474.09) scale(0.3200,0.2950)" font-family="'Liberation Serif', serif" font-weight="bold" font-size="100" fill="#000">60</text>
<text transform="translate(314.88,509.70) scale(0.4090,0.3830)" font-family="'Liberation Serif', serif" font-weight="bold" font-size="100" fill="#000">Time (s)</text>
<text transform="translate(29.82,307.88) rotate(-90) scale(0.3751,0.3944)" font-family="'Liberation Serif', serif" font-weight="bold" font-size="100" fill="#000">Strain (%)</text>
<text transform="translate(107.16,44.02) scale(0.4102,0.3656)" font-family="'Liberation Serif', serif" font-weight="bold" font-size="100" fill="#000">(a)</text>
<text transform="translate(224.70,38.83) scale(0.2507,0.2368)" font-family="'Liberation Serif', serif" font-weight="bold" font-size="100" fill="#000">30°C</text>
<text transform="translate(556.01,39.06) scale(0.2476,0.2409)" font-family="'Liberation Serif', serif" font-weight="bold" font-size="100" fill="#F0087F">5MPa</text>
<text transform="translate(555.61,111.16) scale(0.2476,0.2410)" font-family="'Liberation Serif', serif" font-weight="bold" font-size="100" fill="#1C70DE">4MPa</text>
<text transform="translate(557.01,194.42) scale(0.2476,0.2410)" font-family="'Liberation Serif', serif" font-weight="bold" font-size="100" fill="#EE4040">3MPa</text>
<text transform="translate(556.81,292.46) scale(0.2476,0.2410)" font-family="'Liberation Serif', serif" font-weight="bold" font-size="100" fill="#808000">2MPa</text>
<text transform="translate(557.79,386.81) scale(0.3142,0.2910)" font-family="'Liberation Serif', serif" font-weight="bold" font-size="100" fill="#008080">1MPa</text>
<path d="M93.6,1073 V1066.5 M187.4,1073 V1066.5 M281.2,1073 V1066.5 M375.0,1073 V1066.5 M468.8,1073 V1066.5 M562.6,1073 V1066.5 M656.4,1073 V1066.5 M140.5,1073 V1069.5 M234.3,1073 V1069.5 M328.1,1073 V1069.5 M421.9,1073 V1069.5 M515.7,1073 V1069.5 M609.5,1073 V1069.5 M85.5,975.1 H92.8 M85.5,875.6 H92.8 M85.5,776.1 H92.8 M85.5,676.6 H92.8 M85.5,1024.8 H88.8 M85.5,925.3 H88.8 M85.5,825.8 H88.8 M85.5,726.3 H88.8 M85.5,626.8 H88.8" stroke="#000" stroke-width="3" fill="none"/>
<clipPath id="cb"><rect x="85.5" y="599" width="596.5" height="474"/></clipPath>
<g clip-path="url(#cb)">
<circle cx="93.6" cy="1074.2" r="5.4" fill="#FF0000"/>
<circle cx="92.0" cy="1072.0" r="1.1" fill="#fff" opacity="0.8"/>
<polyline points="102.8,1001.6 102.9,1001.4 102.9,1001.3 103.0,1001.1 103.0,1001.0 103.1,1000.8 103.1,1000.6 103.2,1000.5 103.3,1000.3 103.3,1000.2 103.4,1000.0 103.4,999.9 103.5,999.7 103.5,999.5 103.6,999.4 103.7,999.2 103.7,999.1 103.8,998.9 103.8,998.8 103.9,998.6 104.0,998.5 104.0,998.3 104.1,998.2 104.2,998.0 104.2,997.9 104.3,997.7 104.3,997.6 104.4,997.4 104.5,997.3 104.5,997.1 104.6,997.0 104.7,996.8 104.7,996.7 104.8,996.5 104.9,996.4 104.9,996.2 105.0,996.1 105.1,995.9 105.2,995.8 105.2,995.7 105.3,995.5 105.4,995.4 105.4,995.2 105.5,995.1 105.6,995.0 105.6,994.8 105.7,994.7 105.8,994.5 105.9,994.4 105.9,994.3 106.0,994.1 106.1,994.0 106.2,993.9 106.2,993.7 106.3,993.6 106.4,993.4 106.5,993.3 106.5,993.2 106.6,993.0 106.7,992.9 106.8,992.8 106.9,992.7 106.9,992.5 107.0,992.4 107.1,992.3 107.2,992.1 107.3,992.0 107.3,991.9 107.4,991.8 107.5,991.6 107.6,991.5 107.7,991.4 107.8,991.3 107.8,991.1 107.9,991.0 108.0,990.9 108.1,990.8 108.2,990.7 108.3,990.5 108.4,990.4 108.5,990.3 108.5,990.2 108.6,990.1 108.7,989.9 108.8,989.8 108.9,989.7 109.0,989.6 109.1,989.5 109.2,989.4 109.3,989.3 109.4,989.1 109.5,989.0 109.6,988.9 109.7,988.8 109.8,988.7 109.8,988.6 109.9,988.5 110.0,988.4 110.1,988.3 110.2,988.2 110.3,988.0 110.4,987.9 110.5,987.8 110.6,987.7 110.7,987.6 110.9,987.5 111.0,987.4 111.1,987.3 111.2,987.2 111.3,987.1 111.4,987.0 111.5,986.9 111.6,986.8 111.7,986.7 111.8,986.6 111.9,986.5 112.0,986.4 112.1,986.3 112.2,986.2 112.4,986.1 114.2,984.7 116.0,983.4 117.8,982.3 119.6,981.4 121.5,980.5 123.3,979.6 125.1,978.9 126.9,978.1 128.7,977.4 130.6,976.7 132.4,976.1 134.2,975.4 136.0,974.8 137.8,974.2 139.7,973.6 141.5,973.0 143.3,972.4 145.1,971.9 146.9,971.3 148.8,970.8 150.6,970.2 152.4,969.7 154.2,969.2 156.0,968.7 157.8,968.2 159.7,967.7 161.5,967.2 163.3,966.7 165.1,966.2 166.9,965.7 168.8,965.3 170.6,964.8 172.4,964.4 174.2,964.0 176.0,963.5 177.9,963.1 179.7,962.7 181.5,962.3 183.3,961.9 185.1,961.5 187.0,961.1 188.8,960.7 190.6,960.3 192.4,959.9 194.2,959.6 196.1,959.2 197.9,958.9 199.7,958.5 201.5,958.2 203.3,957.8 205.2,957.5 207.0,957.2 208.8,956.8 210.6,956.5 212.4,956.2 214.3,955.9 216.1,955.6 217.9,955.3 219.7,955.0 221.5,954.7 223.4,954.4 225.2,954.1 227.0,953.8 228.8,953.6 230.6,953.3 232.4,953.0 234.3,952.8 236.1,952.5 237.9,952.2 239.7,952.0 241.5,951.7 243.4,951.5 245.2,951.3 247.0,951.0 248.8,950.8 250.6,950.5 252.5,950.3 254.3,950.1 256.1,949.9 257.9,949.7 259.7,949.4 261.6,949.2 263.4,949.0 265.2,948.8 267.0,948.6 268.8,948.4 270.7,948.2 272.5,948.0 274.3,947.8 276.1,947.6 277.9,947.5 279.8,947.3 281.6,947.1 283.4,946.9 285.2,946.7 287.0,946.6 288.9,946.4 290.7,946.2 292.5,946.0 294.3,945.9 296.1,945.7 298.0,945.6 299.8,945.4 301.6,945.2 303.4,945.1 305.2,944.9 307.0,944.8 308.9,944.6 310.7,944.5 312.5,944.3 314.3,944.2 316.1,944.0 318.0,943.9 319.8,943.8 321.6,943.6 323.4,943.5 325.2,943.4 327.1,943.2 328.9,943.1 330.7,943.0 332.5,942.8 334.3,942.7 336.2,942.6 338.0,942.5 339.8,942.4 341.6,942.2 343.4,942.1 345.3,942.0 347.1,941.9 348.9,941.8 350.7,941.7 352.5,941.5 354.4,941.4 356.2,941.3 358.0,941.2 359.8,941.1 361.6,941.0 363.5,940.9 365.3,940.8 367.1,940.7 368.9,940.6 370.7,940.5 372.6,940.4 374.4,940.3 376.2,940.2 378.0,940.1 379.8,940.0 381.7,939.9 383.5,939.8 385.3,939.7 387.1,939.6 388.9,939.5 390.7,939.4 392.6,939.4 394.4,939.3 396.2,939.2 398.0,939.1 399.8,939.0 401.7,938.9 403.5,938.8 405.3,938.8 407.1,938.7 408.9,938.6 410.8,938.5 412.6,938.4 414.4,938.4 416.2,938.3 418.0,938.2 419.9,938.1 421.7,938.0 423.5,938.0 425.3,937.9 427.1,937.8 429.0,937.7 430.8,937.7 432.6,937.6 434.4,937.5 436.2,937.4 438.1,937.4 439.9,937.3 441.7,937.2 443.5,937.2 445.3,937.1 447.2,937.0 449.0,937.0 450.8,936.9 452.6,936.8 454.4,936.8 456.3,936.7 458.1,936.6 459.9,936.6 461.7,936.5 463.5,936.4 465.3,936.4 467.2,936.3 469.0,936.2 470.8,936.2 472.6,936.1 474.4,936.0 476.3,936.0 478.1,935.9 479.9,935.9 481.7,935.8 483.5,935.7 485.4,935.7 487.2,935.6 489.0,935.6 490.8,935.5 492.6,935.4 494.5,935.4 496.3,935.3 498.1,935.3 499.9,935.2 501.7,935.2 503.6,935.1 505.4,935.0 507.2,935.0 509.0,934.9 510.8,934.9 512.7,934.8 514.5,934.8 516.3,934.7 518.1,934.6 519.9,934.6 521.8,934.5 523.6,934.5 525.4,934.4 527.2,934.4 529.0,934.3 530.9,934.3 532.7,934.2 534.5,934.2 536.3,934.1 538.1,934.1 539.9,934.0 541.8,934.0 543.6,933.9 545.4,933.9 547.2,933.8 549.0,933.8 550.9,933.7 552.7,933.7 554.5,933.6 556.3,933.6 558.1,933.5 560.0,933.5 561.8,933.4 563.6,933.4 565.4,933.3 567.2,933.3 569.1,933.2 570.9,933.2 572.7,933.1 574.5,933.1 576.3,933.0 578.2,933.0 580.0,932.9 581.8,932.9 583.6,932.8 585.4,932.8 587.3,932.7 589.1,932.7 590.9,932.6 592.7,932.6 594.5,932.5 596.4,932.5 598.2,932.4 600.0,932.4 601.8,932.3 603.6,932.3 605.5,932.3 607.3,932.2 609.1,932.2 610.9,932.1 612.7,932.1 614.6,932.0 616.4,932.0 618.2,931.9 620.0,931.9 621.8,931.8 623.6,931.8 625.5,931.8 627.3,931.7 629.1,931.7 630.9,931.6 632.7,931.6 634.6,931.5 636.4,931.5 638.2,931.4 640.0,931.4 641.8,931.3 643.7,931.3 645.5,931.3 647.3,931.2 649.1,931.2 650.9,931.1 652.8,931.1 654.6,931.0 656.4,931.0" fill="none" stroke="#FF0000" stroke-width="10.8" stroke-linecap="round" stroke-linejoin="round"/>
<circle cx="656.4" cy="931.0" r="5.4" fill="url(#gFF0000)"/>
<circle cx="93.6" cy="1074.2" r="5.4" fill="#FF6600"/>
<circle cx="92.0" cy="1072.0" r="1.1" fill="#fff" opacity="0.8"/>
<circle cx="94.3" cy="1026.4" r="5.4" fill="url(#gFF6600)"/>
<polyline points="95.3,1005.0 97.5,1002.0 100.0,993.5 100.1,993.4 100.1,993.3 100.2,993.2 100.2,993.1 100.3,993.0 100.4,992.9 100.4,992.8 100.5,992.7 100.5,992.6 100.6,992.4 100.7,992.3 100.7,992.2 100.8,992.1 100.9,992.0 100.9,991.9 101.0,991.8 101.1,991.7 101.1,991.5 101.2,991.4 101.3,991.3 101.3,991.2 101.4,991.1 101.5,991.0 101.6,990.8 101.6,990.7 101.7,990.6 101.8,990.5 101.8,990.4 101.9,990.2 102.0,990.1 102.1,990.0 102.1,989.8 102.2,989.7 102.3,989.6 102.4,989.5 102.5,989.3 102.5,989.2 102.6,989.1 102.7,988.9 102.8,988.8 102.9,988.7 103.0,988.5 103.0,988.4 103.1,988.2 103.2,988.1 103.3,988.0 103.4,987.8 103.5,987.7 103.6,987.5 103.7,987.4 103.7,987.2 103.8,987.1 103.9,987.0 104.0,986.8 104.1,986.7 104.2,986.5 104.3,986.4 104.4,986.2 104.5,986.0 104.6,985.9 104.7,985.7 104.8,985.6 104.9,985.4 105.0,985.3 105.1,985.1 105.2,984.9 105.3,984.8 105.4,984.6 105.5,984.4 105.6,984.3 105.8,984.1 105.9,983.9 106.0,983.8 106.1,983.6 106.2,983.4 106.3,983.3 106.4,983.1 106.6,982.9 106.7,982.7 106.8,982.6 106.9,982.4 107.0,982.2 107.2,982.0 107.3,981.8 107.4,981.7 107.5,981.5 107.6,981.3 107.8,981.1 107.9,980.9 108.0,980.7 108.2,980.5 108.3,980.3 108.4,980.2 108.6,980.0 108.7,979.8 108.8,979.6 109.0,979.4 109.1,979.2 109.3,979.0 109.4,978.8 109.5,978.6 109.7,978.4 109.8,978.2 110.0,978.0 110.1,977.8 110.3,977.6 110.4,977.3 110.6,977.1 110.7,976.9 110.9,976.7 111.1,976.5 111.2,976.3 111.4,976.1 111.5,975.8 111.7,975.6 111.9,975.4 112.0,975.2 112.2,975.0 112.4,974.7 114.2,972.4 116.0,970.1 117.8,967.9 119.6,965.8 121.5,963.8 123.3,961.8 125.1,959.9 126.9,958.1 128.7,956.3 130.6,954.6 132.4,952.9 134.2,951.3 136.0,949.7 137.8,948.2 139.7,946.8 141.5,945.3 143.3,943.9 145.1,942.6 146.9,941.3 148.8,940.0 150.6,938.8 152.4,937.5 154.2,936.4 156.0,935.2 157.8,934.1 159.7,933.0 161.5,931.9 163.3,930.9 165.1,929.8 166.9,928.8 168.8,927.8 170.6,926.9 172.4,925.9 174.2,925.0 176.0,924.1 177.9,923.2 179.7,922.4 181.5,921.5 183.3,920.7 185.1,919.9 187.0,919.1 188.8,918.3 190.6,917.5 192.4,916.7 194.2,916.0 196.1,915.2 197.9,914.5 199.7,913.8 201.5,913.1 203.3,912.4 205.2,911.7 207.0,911.1 208.8,910.4 210.6,909.8 212.4,909.1 214.3,908.5 216.1,907.9 217.9,907.3 219.7,906.7 221.5,906.1 223.4,905.5 225.2,904.9 227.0,904.3 228.8,903.8 230.6,903.2 232.4,902.7 234.3,902.1 236.1,901.6 237.9,901.1 239.7,900.5 241.5,900.0 243.4,899.5 245.2,899.0 247.0,898.5 248.8,898.1 250.6,897.6 252.5,897.1 254.3,896.6 256.1,896.2 257.9,895.7 259.7,895.3 261.6,894.8 263.4,894.4 265.2,893.9 267.0,893.5 268.8,893.1 270.7,892.7 272.5,892.2 274.3,891.8 276.1,891.4 277.9,891.0 279.8,890.6 281.6,890.2 283.4,889.9 285.2,889.5 287.0,889.1 288.9,888.7 290.7,888.4 292.5,888.0 294.3,887.6 296.1,887.3 298.0,886.9 299.8,886.6 301.6,886.2 303.4,885.9 305.2,885.5 307.0,885.2 308.9,884.9 310.7,884.5 312.5,884.2 314.3,883.9 316.1,883.6 318.0,883.3 319.8,883.0 321.6,882.7 323.4,882.3 325.2,882.0 327.1,881.8 328.9,881.5 330.7,881.2 332.5,880.9 334.3,880.6 336.2,880.3 338.0,880.0 339.8,879.8 341.6,879.5 343.4,879.2 345.3,878.9 347.1,878.7 348.9,878.4 350.7,878.2 352.5,877.9 354.4,877.6 356.2,877.4 358.0,877.1 359.8,876.9 361.6,876.6 363.5,876.4 365.3,876.2 367.1,875.9 368.9,875.7 370.7,875.5 372.6,875.2 374.4,875.0 376.2,874.8 378.0,874.5 379.8,874.3 381.7,874.1 383.5,873.9 385.3,873.7 387.1,873.5 388.9,873.2 390.7,873.0 392.6,872.8 394.4,872.6 396.2,872.4 398.0,872.2 399.8,872.0 401.7,871.8 403.5,871.6 405.3,871.4 407.1,871.2 408.9,871.0 410.8,870.8 412.6,870.7 414.4,870.5 416.2,870.3 418.0,870.1 419.9,869.9 421.7,869.7 423.5,869.6 425.3,869.4 427.1,869.2 429.0,869.0 430.8,868.9 432.6,868.7 434.4,868.5 436.2,868.4 438.1,868.2 439.9,868.0 441.7,867.9 443.5,867.7 445.3,867.5 447.2,867.4 449.0,867.2 450.8,867.1 452.6,866.9 454.4,866.8 456.3,866.6 458.1,866.5 459.9,866.3 461.7,866.2 463.5,866.0 465.3,865.9 467.2,865.7 469.0,865.6 470.8,865.4 472.6,865.3 474.4,865.1 476.3,865.0 478.1,864.9 479.9,864.7 481.7,864.6 483.5,864.4 485.4,864.3 487.2,864.2 489.0,864.0 490.8,863.9 492.6,863.8 494.5,863.6 496.3,863.5 498.1,863.4 499.9,863.3 501.7,863.1 503.6,863.0 505.4,862.9 507.2,862.8 509.0,862.6 510.8,862.5 512.7,862.4 514.5,862.3 516.3,862.2 518.1,862.0 519.9,861.9 521.8,861.8 523.6,861.7 525.4,861.6 527.2,861.4 529.0,861.3 530.9,861.2 532.7,861.1 534.5,861.0 536.3,860.9 538.1,860.8 539.9,860.7 541.8,860.6 543.6,860.4 545.4,860.3 547.2,860.2 549.0,860.1 550.9,860.0 552.7,859.9 554.5,859.8 556.3,859.7 558.1,859.6 560.0,859.5 561.8,859.4 563.6,859.3 565.4,859.2 567.2,859.1 569.1,859.0 570.9,858.9 572.7,858.8 574.5,858.7 576.3,858.6 578.2,858.5 580.0,858.4 581.8,858.3 583.6,858.2 585.4,858.1 587.3,858.0 589.1,857.9 590.9,857.8 592.7,857.7 594.5,857.6 596.4,857.5 598.2,857.4 600.0,857.4 601.8,857.3 603.6,857.2 605.5,857.1 607.3,857.0 609.1,856.9 610.9,856.8 612.7,856.7 614.6,856.6 616.4,856.5 618.2,856.5 620.0,856.4 621.8,856.3 623.6,856.2 625.5,856.1 627.3,856.0 629.1,855.9 630.9,855.9 632.7,855.8 634.6,855.7 636.4,855.6 638.2,855.5 640.0,855.4 641.8,855.3 643.7,855.3 645.5,855.2 647.3,855.1 649.1,855.0 650.9,854.9 652.8,854.9 654.6,854.8 656.4,854.7" fill="none" stroke="#FF6600" stroke-width="10.8" stroke-linecap="round" stroke-linejoin="round"/>
<circle cx="656.4" cy="854.7" r="5.4" fill="url(#gFF6600)"/>
<circle cx="93.6" cy="1074.2" r="5.4" fill="#0000FF"/>
<circle cx="92.0" cy="1072.0" r="1.1" fill="#fff" opacity="0.8"/>
<circle cx="94.3" cy="1019.8" r="5.4" fill="url(#g0000FF)"/>
<circle cx="95.0" cy="999.0" r="5.4" fill="url(#g0000FF)"/>
<polyline points="95.0,999.0 95.6,993.5 95.6,993.4 95.7,993.2 95.7,993.1 95.8,992.9 95.8,992.7 95.8,992.6 95.9,992.4 95.9,992.2 96.0,992.1 96.0,991.9 96.1,991.7 96.1,991.5 96.2,991.3 96.2,991.1 96.3,991.0 96.3,990.8 96.4,990.6 96.4,990.4 96.5,990.2 96.5,990.0 96.6,989.7 96.6,989.5 96.7,989.3 96.7,989.1 96.8,988.9 96.9,988.6 96.9,988.4 97.0,988.2 97.1,987.9 97.1,987.7 97.2,987.4 97.3,987.2 97.3,986.9 97.4,986.7 97.5,986.4 97.5,986.2 97.6,985.9 97.7,985.6 97.8,985.3 97.8,985.0 97.9,984.8 98.0,984.5 98.1,984.2 98.2,983.9 98.3,983.6 98.4,983.3 98.4,983.0 98.5,982.6 98.6,982.3 98.7,982.0 98.8,981.7 98.9,981.3 99.0,981.0 99.1,980.6 99.2,980.3 99.3,979.9 99.4,979.6 99.6,979.2 99.7,978.9 99.8,978.5 99.9,978.1 100.0,977.7 100.1,977.3 100.3,976.9 100.4,976.6 100.5,976.2 100.7,975.7 100.8,975.3 100.9,974.9 101.1,974.5 101.2,974.1 101.3,973.6 101.5,973.2 101.6,972.8 101.8,972.3 102.0,971.9 102.1,971.4 102.3,970.9 102.4,970.5 102.6,970.0 102.8,969.5 103.0,969.0 103.1,968.5 103.3,968.1 103.5,967.6 103.7,967.1 103.9,966.5 104.1,966.0 104.3,965.5 104.5,965.0 104.7,964.5 104.9,963.9 105.1,963.4 105.3,962.8 105.5,962.3 105.8,961.7 106.0,961.2 106.2,960.6 106.5,960.0 106.7,959.5 107.0,958.9 107.2,958.3 107.5,957.7 107.7,957.1 108.0,956.5 108.3,955.9 108.6,955.3 108.9,954.7 109.1,954.1 109.4,953.5 109.7,952.9 110.0,952.2 110.4,951.6 110.7,951.0 111.0,950.3 111.3,949.7 111.7,949.0 112.0,948.4 112.4,947.7 114.2,944.4 116.0,941.3 117.8,938.4 119.6,935.7 121.5,933.0 123.3,930.6 125.1,928.2 126.9,925.9 128.7,923.8 130.6,921.7 132.4,919.7 134.2,917.7 136.0,915.8 137.8,914.0 139.7,912.3 141.5,910.6 143.3,908.9 145.1,907.3 146.9,905.7 148.8,904.2 150.6,902.7 152.4,901.3 154.2,899.9 156.0,898.5 157.8,897.1 159.7,895.8 161.5,894.5 163.3,893.2 165.1,892.0 166.9,890.8 168.8,889.6 170.6,888.4 172.4,887.3 174.2,886.1 176.0,885.0 177.9,884.0 179.7,882.9 181.5,881.9 183.3,880.8 185.1,879.8 187.0,878.9 188.8,877.9 190.6,876.9 192.4,876.0 194.2,875.1 196.1,874.2 197.9,873.3 199.7,872.5 201.5,871.6 203.3,870.8 205.2,870.0 207.0,869.2 208.8,868.4 210.6,867.6 212.4,866.9 214.3,866.1 216.1,865.4 217.9,864.7 219.7,864.0 221.5,863.3 223.4,862.6 225.2,861.9 227.0,861.3 228.8,860.6 230.6,860.0 232.4,859.3 234.3,858.7 236.1,858.1 237.9,857.5 239.7,856.9 241.5,856.4 243.4,855.8 245.2,855.3 247.0,854.7 248.8,854.2 250.6,853.7 252.5,853.1 254.3,852.6 256.1,852.1 257.9,851.6 259.7,851.2 261.6,850.7 263.4,850.2 265.2,849.7 267.0,849.3 268.8,848.9 270.7,848.4 272.5,848.0 274.3,847.6 276.1,847.1 277.9,846.7 279.8,846.3 281.6,845.9 283.4,845.5 285.2,845.2 287.0,844.8 288.9,844.4 290.7,844.0 292.5,843.7 294.3,843.3 296.1,843.0 298.0,842.6 299.8,842.3 301.6,841.9 303.4,841.6 305.2,841.3 307.0,841.0 308.9,840.7 310.7,840.4 312.5,840.0 314.3,839.7 316.1,839.4 318.0,839.2 319.8,838.9 321.6,838.6 323.4,838.3 325.2,838.0 327.1,837.8 328.9,837.5 330.7,837.2 332.5,837.0 334.3,836.7 336.2,836.5 338.0,836.2 339.8,836.0 341.6,835.7 343.4,835.5 345.3,835.2 347.1,835.0 348.9,834.8 350.7,834.5 352.5,834.3 354.4,834.1 356.2,833.9 358.0,833.7 359.8,833.4 361.6,833.2 363.5,833.0 365.3,832.8 367.1,832.6 368.9,832.4 370.7,832.2 372.6,832.0 374.4,831.8 376.2,831.6 378.0,831.5 379.8,831.3 381.7,831.1 383.5,830.9 385.3,830.7 387.1,830.5 388.9,830.4 390.7,830.2 392.6,830.0 394.4,829.9 396.2,829.7 398.0,829.5 399.8,829.4 401.7,829.2 403.5,829.0 405.3,828.9 407.1,828.7 408.9,828.6 410.8,828.4 412.6,828.2 414.4,828.1 416.2,827.9 418.0,827.8 419.9,827.6 421.7,827.5 423.5,827.4 425.3,827.2 427.1,827.1 429.0,826.9 430.8,826.8 432.6,826.6 434.4,826.5 436.2,826.4 438.1,826.2 439.9,826.1 441.7,826.0 443.5,825.8 445.3,825.7 447.2,825.6 449.0,825.5 450.8,825.3 452.6,825.2 454.4,825.1 456.3,825.0 458.1,824.8 459.9,824.7 461.7,824.6 463.5,824.5 465.3,824.3 467.2,824.2 469.0,824.1 470.8,824.0 472.6,823.9 474.4,823.8 476.3,823.6 478.1,823.5 479.9,823.4 481.7,823.3 483.5,823.2 485.4,823.1 487.2,823.0 489.0,822.9 490.8,822.7 492.6,822.6 494.5,822.5 496.3,822.4 498.1,822.3 499.9,822.2 501.7,822.1 503.6,822.0 505.4,821.9 507.2,821.8 509.0,821.7 510.8,821.6 512.7,821.5 514.5,821.4 516.3,821.3 518.1,821.2 519.9,821.1 521.8,821.0 523.6,820.9 525.4,820.8 527.2,820.7 529.0,820.6 530.9,820.5 532.7,820.4 534.5,820.3 536.3,820.2 538.1,820.1 539.9,820.0 541.8,819.9 543.6,819.8 545.4,819.7 547.2,819.6 549.0,819.5 550.9,819.4 552.7,819.3 554.5,819.2 556.3,819.2 558.1,819.1 560.0,819.0 561.8,818.9 563.6,818.8 565.4,818.7 567.2,818.6 569.1,818.5 570.9,818.4 572.7,818.3 574.5,818.2 576.3,818.2 578.2,818.1 580.0,818.0 581.8,817.9 583.6,817.8 585.4,817.7 587.3,817.6 589.1,817.5 590.9,817.4 592.7,817.4 594.5,817.3 596.4,817.2 598.2,817.1 600.0,817.0 601.8,816.9 603.6,816.8 605.5,816.8 607.3,816.7 609.1,816.6 610.9,816.5 612.7,816.4 614.6,816.3 616.4,816.2 618.2,816.2 620.0,816.1 621.8,816.0 623.6,815.9 625.5,815.8 627.3,815.7 629.1,815.6 630.9,815.6 632.7,815.5 634.6,815.4 636.4,815.3 638.2,815.2 640.0,815.1 641.8,815.1 643.7,815.0 645.5,814.9 647.3,814.8 649.1,814.7 650.9,814.7 652.8,814.6 654.6,814.5 656.4,814.4" fill="none" stroke="#0000FF" stroke-width="10.8" stroke-linecap="round" stroke-linejoin="round"/>
<circle cx="656.4" cy="814.4" r="5.4" fill="url(#g0000FF)"/>
<circle cx="93.6" cy="1074.2" r="5.4" fill="#008000"/>
<circle cx="92.0" cy="1072.0" r="1.1" fill="#fff" opacity="0.8"/>
<circle cx="94.9" cy="1010.6" r="5.4" fill="url(#g008000)"/>
<circle cx="96.8" cy="994.0" r="5.4" fill="url(#g008000)"/>
<circle cx="96.8" cy="988.0" r="5.4" fill="url(#g008000)"/>
<circle cx="97.0" cy="982.0" r="5.4" fill="url(#g008000)"/>
<circle cx="97.3" cy="977.0" r="5.4" fill="url(#g008000)"/>
<polyline points="97.3,977.0 97.8,971.2 97.9,971.0 97.9,970.8 98.0,970.6 98.0,970.4 98.1,970.2 98.1,970.0 98.2,969.8 98.2,969.6 98.3,969.4 98.4,969.2 98.4,969.0 98.5,968.7 98.5,968.5 98.6,968.3 98.7,968.1 98.7,967.8 98.8,967.6 98.9,967.4 98.9,967.1 99.0,966.9 99.1,966.6 99.1,966.4 99.2,966.1 99.3,965.9 99.4,965.6 99.4,965.4 99.5,965.1 99.6,964.8 99.6,964.6 99.7,964.3 99.8,964.0 99.9,963.8 100.0,963.5 100.0,963.2 100.1,962.9 100.2,962.7 100.3,962.4 100.4,962.1 100.5,961.8 100.5,961.5 100.6,961.2 100.7,960.9 100.8,960.6 100.9,960.3 101.0,960.0 101.1,959.7 101.2,959.3 101.3,959.0 101.4,958.7 101.5,958.4 101.6,958.1 101.7,957.7 101.8,957.4 101.9,957.0 102.0,956.7 102.1,956.4 102.2,956.0 102.3,955.7 102.4,955.3 102.5,955.0 102.6,954.6 102.8,954.2 102.9,953.9 103.0,953.5 103.1,953.1 103.2,952.7 103.4,952.4 103.5,952.0 103.6,951.6 103.7,951.2 103.9,950.8 104.0,950.4 104.1,950.0 104.3,949.6 104.4,949.2 104.5,948.8 104.7,948.4 104.8,948.0 104.9,947.5 105.1,947.1 105.2,946.7 105.4,946.2 105.5,945.8 105.7,945.4 105.8,944.9 106.0,944.5 106.1,944.0 106.3,943.6 106.5,943.1 106.6,942.7 106.8,942.2 107.0,941.7 107.1,941.2 107.3,940.8 107.5,940.3 107.6,939.8 107.8,939.3 108.0,938.8 108.2,938.3 108.4,937.8 108.6,937.3 108.7,936.8 108.9,936.3 109.1,935.8 109.3,935.3 109.5,934.8 109.7,934.2 109.9,933.7 110.1,933.2 110.4,932.6 110.6,932.1 110.8,931.6 111.0,931.0 111.2,930.5 111.4,929.9 111.7,929.4 111.9,928.8 112.1,928.2 112.4,927.7 114.2,923.4 116.0,919.2 117.8,915.3 119.6,911.5 121.5,907.9 123.3,904.4 125.1,901.1 126.9,897.9 128.7,894.7 130.6,891.7 132.4,888.8 134.2,886.0 136.0,883.3 137.8,880.7 139.7,878.1 141.5,875.6 143.3,873.2 145.1,870.9 146.9,868.6 148.8,866.4 150.6,864.3 152.4,862.2 154.2,860.1 156.0,858.1 157.8,856.2 159.7,854.3 161.5,852.4 163.3,850.6 165.1,848.9 166.9,847.2 168.8,845.5 170.6,843.8 172.4,842.2 174.2,840.7 176.0,839.1 177.9,837.6 179.7,836.1 181.5,834.7 183.3,833.3 185.1,831.9 187.0,830.6 188.8,829.2 190.6,828.0 192.4,826.7 194.2,825.4 196.1,824.2 197.9,823.0 199.7,821.9 201.5,820.7 203.3,819.6 205.2,818.5 207.0,817.4 208.8,816.4 210.6,815.4 212.4,814.4 214.3,813.4 216.1,812.4 217.9,811.4 219.7,810.5 221.5,809.6 223.4,808.7 225.2,807.8 227.0,806.9 228.8,806.1 230.6,805.3 232.4,804.4 234.3,803.6 236.1,802.9 237.9,802.1 239.7,801.3 241.5,800.6 243.4,799.9 245.2,799.2 247.0,798.5 248.8,797.8 250.6,797.1 252.5,796.4 254.3,795.8 256.1,795.1 257.9,794.5 259.7,793.9 261.6,793.3 263.4,792.7 265.2,792.1 267.0,791.6 268.8,791.0 270.7,790.4 272.5,789.9 274.3,789.4 276.1,788.8 277.9,788.3 279.8,787.8 281.6,787.3 283.4,786.8 285.2,786.4 287.0,785.9 288.9,785.4 290.7,785.0 292.5,784.5 294.3,784.1 296.1,783.7 298.0,783.2 299.8,782.8 301.6,782.4 303.4,782.0 305.2,781.6 307.0,781.2 308.9,780.8 310.7,780.4 312.5,780.1 314.3,779.7 316.1,779.3 318.0,779.0 319.8,778.6 321.6,778.3 323.4,778.0 325.2,777.6 327.1,777.3 328.9,777.0 330.7,776.7 332.5,776.3 334.3,776.0 336.2,775.7 338.0,775.4 339.8,775.1 341.6,774.8 343.4,774.6 345.3,774.3 347.1,774.0 348.9,773.7 350.7,773.4 352.5,773.2 354.4,772.9 356.2,772.7 358.0,772.4 359.8,772.1 361.6,771.9 363.5,771.6 365.3,771.4 367.1,771.2 368.9,770.9 370.7,770.7 372.6,770.5 374.4,770.2 376.2,770.0 378.0,769.8 379.8,769.6 381.7,769.3 383.5,769.1 385.3,768.9 387.1,768.7 388.9,768.5 390.7,768.3 392.6,768.1 394.4,767.9 396.2,767.7 398.0,767.5 399.8,767.3 401.7,767.1 403.5,766.9 405.3,766.7 407.1,766.6 408.9,766.4 410.8,766.2 412.6,766.0 414.4,765.8 416.2,765.7 418.0,765.5 419.9,765.3 421.7,765.1 423.5,765.0 425.3,764.8 427.1,764.6 429.0,764.5 430.8,764.3 432.6,764.1 434.4,764.0 436.2,763.8 438.1,763.7 439.9,763.5 441.7,763.3 443.5,763.2 445.3,763.0 447.2,762.9 449.0,762.7 450.8,762.6 452.6,762.4 454.4,762.3 456.3,762.1 458.1,762.0 459.9,761.9 461.7,761.7 463.5,761.6 465.3,761.4 467.2,761.3 469.0,761.2 470.8,761.0 472.6,760.9 474.4,760.7 476.3,760.6 478.1,760.5 479.9,760.3 481.7,760.2 483.5,760.1 485.4,759.9 487.2,759.8 489.0,759.7 490.8,759.6 492.6,759.4 494.5,759.3 496.3,759.2 498.1,759.0 499.9,758.9 501.7,758.8 503.6,758.7 505.4,758.6 507.2,758.4 509.0,758.3 510.8,758.2 512.7,758.1 514.5,757.9 516.3,757.8 518.1,757.7 519.9,757.6 521.8,757.5 523.6,757.3 525.4,757.2 527.2,757.1 529.0,757.0 530.9,756.9 532.7,756.8 534.5,756.6 536.3,756.5 538.1,756.4 539.9,756.3 541.8,756.2 543.6,756.1 545.4,756.0 547.2,755.8 549.0,755.7 550.9,755.6 552.7,755.5 554.5,755.4 556.3,755.3 558.1,755.2 560.0,755.1 561.8,755.0 563.6,754.8 565.4,754.7 567.2,754.6 569.1,754.5 570.9,754.4 572.7,754.3 574.5,754.2 576.3,754.1 578.2,754.0 580.0,753.9 581.8,753.8 583.6,753.7 585.4,753.5 587.3,753.4 589.1,753.3 590.9,753.2 592.7,753.1 594.5,753.0 596.4,752.9 598.2,752.8 600.0,752.7 601.8,752.6 603.6,752.5 605.5,752.4 607.3,752.3 609.1,752.2 610.9,752.1 612.7,752.0 614.6,751.9 616.4,751.8 618.2,751.7 620.0,751.6 621.8,751.5 623.6,751.4 625.5,751.3 627.3,751.1 629.1,751.0 630.9,750.9 632.7,750.8 634.6,750.7 636.4,750.6 638.2,750.5 640.0,750.4 641.8,750.3 643.7,750.2 645.5,750.1 647.3,750.0 649.1,749.9 650.9,749.8 652.8,749.7 654.6,749.6 656.4,749.5" fill="none" stroke="#008000" stroke-width="10.8" stroke-linecap="round" stroke-linejoin="round"/>
<circle cx="656.4" cy="749.5" r="5.4" fill="url(#g008000)"/>
<circle cx="93.6" cy="1074.2" r="5.4" fill="#8000FF"/>
<circle cx="92.0" cy="1072.0" r="1.1" fill="#fff" opacity="0.8"/>
<circle cx="94.7" cy="1016.1" r="5.4" fill="url(#g8000FF)"/>
<circle cx="94.9" cy="967.5" r="5.4" fill="url(#g8000FF)"/>
<circle cx="95.5" cy="952.3" r="5.4" fill="url(#g8000FF)"/>
<circle cx="96.0" cy="939.0" r="5.4" fill="url(#g8000FF)"/>
<circle cx="96.3" cy="926.8" r="5.4" fill="url(#g8000FF)"/>
<circle cx="97.1" cy="921.4" r="5.4" fill="url(#g8000FF)"/>
<circle cx="97.9" cy="915.9" r="5.4" fill="url(#g8000FF)"/>
<circle cx="98.8" cy="910.4" r="5.4" fill="url(#g8000FF)"/>
<circle cx="99.7" cy="904.6" r="5.4" fill="url(#g8000FF)"/>
<circle cx="100.7" cy="898.8" r="5.4" fill="url(#g8000FF)"/>
<circle cx="101.6" cy="893.0" r="5.4" fill="url(#g8000FF)"/>
<circle cx="102.6" cy="887.4" r="5.4" fill="url(#g8000FF)"/>
<circle cx="103.7" cy="881.4" r="5.4" fill="url(#g8000FF)"/>
<circle cx="104.7" cy="875.8" r="5.4" fill="url(#g8000FF)"/>
<circle cx="105.9" cy="869.8" r="5.4" fill="url(#g8000FF)"/>
<circle cx="107.1" cy="863.5" r="5.4" fill="url(#g8000FF)"/>
<circle cx="108.3" cy="858.0" r="5.4" fill="url(#g8000FF)"/>
<circle cx="109.5" cy="852.2" r="5.4" fill="url(#g8000FF)"/>
<polyline points="109.5,852.2 109.8,851.0 110.1,849.8 110.3,848.6 110.6,847.4 110.9,846.2 111.2,844.9 111.5,843.7 111.8,842.4 112.1,841.2 112.4,839.9 114.2,832.5 116.0,825.5 117.8,818.8 119.6,812.5 121.5,806.5 123.3,800.9 125.1,795.5 126.9,790.4 128.7,785.5 130.6,780.9 132.4,776.5 134.2,772.4 136.0,768.4 137.8,764.6 139.7,761.0 141.5,757.6 143.3,754.3 145.1,751.2 146.9,748.2 148.8,745.3 150.6,742.6 152.4,740.0 154.2,737.5 156.0,735.1 157.8,732.8 159.7,730.6 161.5,728.4 163.3,726.4 165.1,724.5 166.9,722.6 168.8,720.8 170.6,719.0 172.4,717.3 174.2,715.7 176.0,714.2 177.9,712.6 179.7,711.2 181.5,709.8 183.3,708.4 185.1,707.1 187.0,705.8 188.8,704.6 190.6,703.4 192.4,702.2 194.2,701.1 196.1,700.0 197.9,698.9 199.7,697.9 201.5,696.9 203.3,695.9 205.2,695.0 207.0,694.0 208.8,693.1 210.6,692.3 212.4,691.4 214.3,690.6 216.1,689.7 217.9,688.9 219.7,688.2 221.5,687.4 223.4,686.7 225.2,685.9 227.0,685.2 228.8,684.5 230.6,683.8 232.4,683.2 234.3,682.5 236.1,681.9 237.9,681.3 239.7,680.7 241.5,680.0 243.4,679.5 245.2,678.9 247.0,678.3 248.8,677.8 250.6,677.2 252.5,676.7 254.3,676.1 256.1,675.6 257.9,675.1 259.7,674.6 261.6,674.1 263.4,673.7 265.2,673.2 267.0,672.7 268.8,672.3 270.7,671.8 272.5,671.4 274.3,670.9 276.1,670.5 277.9,670.1 279.8,669.7 281.6,669.3 283.4,668.9 285.2,668.5 287.0,668.1 288.9,667.7 290.7,667.3 292.5,667.0 294.3,666.6 296.1,666.2 298.0,665.9 299.8,665.6 301.6,665.2 303.4,664.9 305.2,664.5 307.0,664.2 308.9,663.9 310.7,663.6 312.5,663.3 314.3,663.0 316.1,662.7 318.0,662.4 319.8,662.1 321.6,661.8 323.4,661.5 325.2,661.2 327.1,660.9 328.9,660.7 330.7,660.4 332.5,660.1 334.3,659.9 336.2,659.6 338.0,659.4 339.8,659.1 341.6,658.9 343.4,658.6 345.3,658.4 347.1,658.2 348.9,657.9 350.7,657.7 352.5,657.5 354.4,657.2 356.2,657.0 358.0,656.8 359.8,656.6 361.6,656.4 363.5,656.2 365.3,656.0 367.1,655.8 368.9,655.6 370.7,655.4 372.6,655.2 374.4,655.0 376.2,654.8 378.0,654.6 379.8,654.5 381.7,654.3 383.5,654.1 385.3,653.9 387.1,653.7 388.9,653.6 390.7,653.4 392.6,653.2 394.4,653.1 396.2,652.9 398.0,652.8 399.8,652.6 401.7,652.4 403.5,652.3 405.3,652.1 407.1,652.0 408.9,651.9 410.8,651.7 412.6,651.6 414.4,651.4 416.2,651.3 418.0,651.1 419.9,651.0 421.7,650.9 423.5,650.7 425.3,650.6 427.1,650.5 429.0,650.4 430.8,650.2 432.6,650.1 434.4,650.0 436.2,649.9 438.1,649.8 439.9,649.6 441.7,649.5 443.5,649.4 445.3,649.3 447.2,649.2 449.0,649.1 450.8,649.0 452.6,648.9 454.4,648.8 456.3,648.7 458.1,648.6 459.9,648.5 461.7,648.4 463.5,648.3 465.3,648.2 467.2,648.1 469.0,648.0 470.8,647.9 472.6,647.8 474.4,647.7 476.3,647.6 478.1,647.5 479.9,647.4 481.7,647.3 483.5,647.2 485.4,647.2 487.2,647.1 489.0,647.0 490.8,646.9 492.6,646.8 494.5,646.8 496.3,646.7 498.1,646.6 499.9,646.5 501.7,646.4 503.6,646.4 505.4,646.3 507.2,646.2 509.0,646.1 510.8,646.1 512.7,646.0 514.5,645.9 516.3,645.9 518.1,645.8 519.9,645.7 521.8,645.7 523.6,645.6 525.4,645.5 527.2,645.5 529.0,645.4 530.9,645.3 532.7,645.3 534.5,645.2 536.3,645.2 538.1,645.1 539.9,645.0 541.8,645.0 543.6,644.9 545.4,644.9 547.2,644.8 549.0,644.7 550.9,644.7 552.7,644.6 554.5,644.6 556.3,644.5 558.1,644.5 560.0,644.4 561.8,644.4 563.6,644.3 565.4,644.3 567.2,644.2 569.1,644.2 570.9,644.1 572.7,644.1 574.5,644.0 576.3,644.0 578.2,643.9 580.0,643.9 581.8,643.8 583.6,643.8 585.4,643.7 587.3,643.7 589.1,643.6 590.9,643.6 592.7,643.6 594.5,643.5 596.4,643.5 598.2,643.4 600.0,643.4 601.8,643.3 603.6,643.3 605.5,643.3 607.3,643.2 609.1,643.2 610.9,643.1 612.7,643.1 614.6,643.1 616.4,643.0 618.2,643.0 620.0,642.9 621.8,642.9 623.6,642.9 625.5,642.8 627.3,642.8 629.1,642.8 630.9,642.7 632.7,642.7 634.6,642.6 636.4,642.6 638.2,642.6 640.0,642.5 641.8,642.5 643.7,642.5 645.5,642.4 647.3,642.4 649.1,642.4 650.9,642.3 652.8,642.3 654.6,642.3 656.4,642.2" fill="none" stroke="#8000FF" stroke-width="10.8" stroke-linecap="round" stroke-linejoin="round"/>
<circle cx="656.4" cy="642.2" r="5.4" fill="url(#g8000FF)"/>
</g>
<path d="M84,1076 V597.3 H683.5 V1076 M82.5,1074.5 H685" fill="none" stroke="#000" stroke-width="3"/>
<text transform="translate(36.45,1083.55) scale(0.3070,0.3000)" font-family="'Liberation Serif', serif" font-weight="bold" font-size="100" fill="#000">0.0</text>
<text transform="translate(36.45,984.20) scale(0.3070,0.3000)" font-family="'Liberation Serif', serif" font-weight="bold" font-size="100" fill="#000">1.0</text>
<text transform="translate(36.45,884.55) scale(0.3070,0.3000)" font-family="'Liberation Serif', serif" font-weight="bold" font-size="100" fill="#000">2.0</text>
<text transform="translate(36.45,785.05) scale(0.3070,0.3000)" font-family="'Liberation Serif', serif" font-weight="bold" font-size="100" fill="#000">3.0</text>
<text transform="translate(36.45,685.55) scale(0.3070,0.3000)" font-family="'Liberation Serif', serif" font-weight="bold" font-size="100" fill="#000">4.0</text>
<text transform="translate(86.02,1107.01) scale(0.3030,0.3050)" font-family="'Liberation Serif', serif" font-weight="bold" font-size="100" fill="#000">0</text>
<text transform="translate(171.64,1107.16) scale(0.3030,0.3050)" font-family="'Liberation Serif', serif" font-weight="bold" font-size="100" fill="#000">10</text>
<text transform="translate(266.05,1107.01) scale(0.3030,0.3050)" font-family="'Liberation Serif', serif" font-weight="bold" font-size="100" fill="#000">20</text>
<text transform="translate(359.85,1107.01) scale(0.3030,0.3050)" font-family="'Liberation Serif', serif" font-weight="bold" font-size="100" fill="#000">30</text>
<text transform="translate(454.10,1107.01) scale(0.3030,0.3050)" font-family="'Liberation Serif', serif" font-weight="bold" font-size="100" fill="#000">40</text>
<text transform="translate(547.45,1107.01) scale(0.3030,0.3050)" font-family="'Liberation Serif', serif" font-weight="bold" font-size="100" fill="#000">50</text>
<text transform="translate(641.40,1107.01) scale(0.3030,0.3050)" font-family="'Liberation Serif', serif" font-weight="bold" font-size="100" fill="#000">60</text>
<text transform="translate(317.13,1142.80) scale(0.3846,0.3860)" font-family="'Liberation Serif', serif" font-weight="bold" font-size="100" fill="#000">Time (s)</text>
<text transform="translate(26.08,922.08) rotate(-90) scale(0.3762,0.3678)" font-family="'Liberation Serif', serif" font-weight="bold" font-size="100" fill="#000">Strain (%)</text>
<text transform="translate(103.15,642.61) scale(0.3868,0.3756)" font-family="'Liberation Serif', serif" font-weight="bold" font-size="100" fill="#000">(b)</text>
<text transform="translate(274.37,633.44) scale(0.2336,0.2313)" font-family="'Liberation Serif', serif" font-weight="bold" font-size="100" fill="#000">3MPa</text>
<text transform="translate(577.76,684.54) scale(0.2340,0.2320)" font-family="'Liberation Serif', serif" font-weight="bold" font-size="100" fill="#8000FF">50°C</text>
<text transform="translate(578.47,738.44) scale(0.2340,0.2320)" font-family="'Liberation Serif', serif" font-weight="bold" font-size="100" fill="#008000">40°C</text>
<text transform="translate(576.76,802.34) scale(0.2340,0.2320)" font-family="'Liberation Serif', serif" font-weight="bold" font-size="100" fill="#0000FF">37°C</text>
<text transform="translate(575.76,898.64) scale(0.2340,0.2320)" font-family="'Liberation Serif', serif" font-weight="bold" font-size="100" fill="#FF6600">33°C</text>
<text transform="translate(576.96,971.64) scale(0.2340,0.2320)" font-family="'Liberation Serif', serif" font-weight="bold" font-size="100" fill="#E84848">30°C</text>
</svg>
</body></html>
